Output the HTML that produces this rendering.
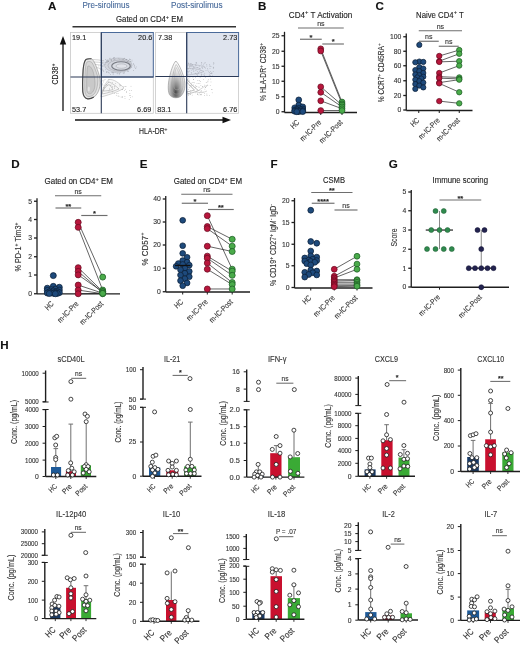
<!DOCTYPE html>
<html><head><meta charset="utf-8"><style>
html,body{margin:0;padding:0;background:#fff;}
svg{display:block;will-change:transform;}
text{font-family:"Liberation Sans", sans-serif;paint-order:stroke;}
</style></head><body>
<svg width="520" height="646" viewBox="0 0 520 646">
<rect x="0" y="0" width="520" height="646" fill="#fff"/>
<text x="48.00" y="9.80" font-size="11.6" text-anchor="start" fill="#111" stroke="#111" stroke-width="0.12" font-weight="bold">A</text>
<text x="82.50" y="7.50" font-size="8.6" text-anchor="start" fill="#46699a" stroke="#46699a" stroke-width="0.12" textLength="47.00" lengthAdjust="spacingAndGlyphs">Pre-sirolimus</text>
<text x="171.00" y="7.50" font-size="8.6" text-anchor="start" fill="#46699a" stroke="#46699a" stroke-width="0.12" textLength="51.50" lengthAdjust="spacingAndGlyphs">Post-sirolimus</text>
<text x="116.00" y="22.00" font-size="8.4" text-anchor="start" fill="#222" stroke="#222" stroke-width="0.12" textLength="67.00" lengthAdjust="spacingAndGlyphs">Gated on CD4<tspan font-size="6" dy="-3.2">+</tspan><tspan dy="3.2"> EM</tspan></text>
<line x1="72.50" y1="26.80" x2="236.00" y2="26.80" stroke="#333" stroke-width="1.5"/>
<defs>
<radialGradient id="gA1" cx="0.3" cy="0.72" r="0.85">
 <stop offset="0" stop-color="#9a9a9a"/><stop offset="0.3" stop-color="#c6c6c6"/><stop offset="0.7" stop-color="#e2e2e2"/><stop offset="1" stop-color="#f0f0f0"/>
</radialGradient>
<radialGradient id="gA2" cx="0.45" cy="0.83" r="0.75" fx="0.45" fy="0.85">
 <stop offset="0" stop-color="#4a4a4a"/><stop offset="0.25" stop-color="#8a8a8a"/><stop offset="0.55" stop-color="#c8c8c8"/><stop offset="0.8" stop-color="#eeeeee"/><stop offset="1" stop-color="#fafafa"/>
</radialGradient>
<radialGradient id="gA3" cx="0.5" cy="0.5" r="0.55">
 <stop offset="0" stop-color="#c9ccd6"/><stop offset="1" stop-color="#e1e5ee"/>
</radialGradient>
</defs>
<rect x="70.50" y="32.50" width="82.80" height="80.80" fill="#fff" stroke="#c8c8c8" stroke-width="0.8"/>
<rect x="101.30" y="32.50" width="52.00" height="44.50" fill="#dfe4ee" stroke="#4a6a99" stroke-width="1.0"/>
<ellipse cx="118.3" cy="65.2" rx="13.8" ry="7.2" fill="#d3d6de" stroke="#a9acb4" stroke-width="0.5"/>
<ellipse cx="119.5" cy="65.6" rx="11.5" ry="5.6" fill="none" stroke="#9a9da5" stroke-width="0.5"/>
<ellipse cx="121" cy="66" rx="9.3" ry="4.3" fill="#d9dce3" stroke="#767981" stroke-width="1.1"/>
<ellipse cx="121.5" cy="66.1" rx="5.5" ry="2.2" fill="#e1e3e9" stroke="#a0a3ab" stroke-width="0.5"/>
<circle cx="119.3" cy="74.0" r="0.4" fill="#8f929a"/>
<circle cx="106.4" cy="72.0" r="0.4" fill="#8f929a"/>
<circle cx="108.2" cy="61.6" r="0.4" fill="#8f929a"/>
<circle cx="136.2" cy="66.9" r="0.4" fill="#8f929a"/>
<circle cx="117.1" cy="73.2" r="0.4" fill="#8f929a"/>
<circle cx="134.2" cy="66.0" r="0.4" fill="#8f929a"/>
<circle cx="126.4" cy="59.7" r="0.4" fill="#8f929a"/>
<circle cx="108.7" cy="61.0" r="0.4" fill="#8f929a"/>
<circle cx="105.8" cy="59.7" r="0.4" fill="#8f929a"/>
<circle cx="100.4" cy="65.0" r="0.4" fill="#8f929a"/>
<circle cx="111.4" cy="60.4" r="0.4" fill="#8f929a"/>
<circle cx="118.9" cy="58.3" r="0.4" fill="#8f929a"/>
<circle cx="113.6" cy="72.3" r="0.4" fill="#8f929a"/>
<circle cx="128.8" cy="60.5" r="0.4" fill="#8f929a"/>
<circle cx="114.4" cy="57.7" r="0.4" fill="#8f929a"/>
<circle cx="113.8" cy="57.6" r="0.4" fill="#8f929a"/>
<circle cx="103.7" cy="71.4" r="0.4" fill="#8f929a"/>
<circle cx="100.3" cy="69.2" r="0.4" fill="#8f929a"/>
<circle cx="128.2" cy="61.6" r="0.4" fill="#8f929a"/>
<circle cx="127.7" cy="71.4" r="0.4" fill="#8f929a"/>
<circle cx="133.7" cy="64.6" r="0.4" fill="#8f929a"/>
<circle cx="107.3" cy="61.1" r="0.4" fill="#8f929a"/>
<circle cx="102.3" cy="65.9" r="0.4" fill="#8f929a"/>
<circle cx="108.0" cy="72.6" r="0.4" fill="#8f929a"/>
<circle cx="101.9" cy="61.8" r="0.4" fill="#8f929a"/>
<circle cx="110.2" cy="58.2" r="0.4" fill="#8f929a"/>
<circle cx="129.9" cy="59.2" r="0.4" fill="#8f929a"/>
<circle cx="111.1" cy="60.2" r="0.4" fill="#8f929a"/>
<circle cx="130.2" cy="59.4" r="0.4" fill="#8f929a"/>
<circle cx="131.9" cy="61.8" r="0.4" fill="#8f929a"/>
<circle cx="114.7" cy="59.4" r="0.4" fill="#8f929a"/>
<circle cx="126.2" cy="59.3" r="0.4" fill="#8f929a"/>
<circle cx="115.0" cy="72.6" r="0.4" fill="#8f929a"/>
<circle cx="129.6" cy="59.1" r="0.4" fill="#8f929a"/>
<circle cx="133.4" cy="70.7" r="0.4" fill="#8f929a"/>
<circle cx="105.8" cy="69.8" r="0.4" fill="#8f929a"/>
<circle cx="113.1" cy="74.3" r="0.4" fill="#8f929a"/>
<circle cx="127.7" cy="61.5" r="0.4" fill="#8f929a"/>
<circle cx="107.6" cy="61.9" r="0.4" fill="#8f929a"/>
<circle cx="115.0" cy="59.1" r="0.4" fill="#8f929a"/>
<circle cx="132.0" cy="60.1" r="0.4" fill="#8f929a"/>
<circle cx="98.8" cy="65.9" r="0.4" fill="#8f929a"/>
<circle cx="112.9" cy="72.3" r="0.4" fill="#8f929a"/>
<circle cx="106.8" cy="62.4" r="0.4" fill="#8f929a"/>
<circle cx="123.2" cy="73.2" r="0.4" fill="#8f929a"/>
<circle cx="106.9" cy="61.9" r="0.4" fill="#8f929a"/>
<circle cx="135.8" cy="68.5" r="0.4" fill="#8f929a"/>
<circle cx="110.6" cy="74.4" r="0.4" fill="#8f929a"/>
<circle cx="130.5" cy="61.7" r="0.4" fill="#8f929a"/>
<circle cx="102.0" cy="68.1" r="0.4" fill="#8f929a"/>
<circle cx="107.5" cy="60.0" r="0.4" fill="#8f929a"/>
<circle cx="102.1" cy="63.3" r="0.4" fill="#8f929a"/>
<circle cx="133.3" cy="63.4" r="0.4" fill="#8f929a"/>
<circle cx="102.0" cy="69.7" r="0.4" fill="#8f929a"/>
<circle cx="119.2" cy="73.3" r="0.4" fill="#8f929a"/>
<circle cx="134.4" cy="65.1" r="0.4" fill="#8f929a"/>
<circle cx="105.0" cy="64.3" r="0.4" fill="#8f929a"/>
<circle cx="103.5" cy="70.2" r="0.4" fill="#8f929a"/>
<circle cx="134.9" cy="67.2" r="0.4" fill="#8f929a"/>
<circle cx="108.6" cy="61.4" r="0.4" fill="#8f929a"/>
<circle cx="106.7" cy="60.7" r="0.4" fill="#8f929a"/>
<circle cx="111.3" cy="59.6" r="0.4" fill="#8f929a"/>
<circle cx="113.3" cy="58.2" r="0.4" fill="#8f929a"/>
<circle cx="131.8" cy="67.1" r="0.4" fill="#8f929a"/>
<circle cx="109.5" cy="58.2" r="0.4" fill="#8f929a"/>
<circle cx="117.9" cy="73.8" r="0.4" fill="#8f929a"/>
<circle cx="105.1" cy="62.2" r="0.4" fill="#8f929a"/>
<circle cx="107.9" cy="71.6" r="0.4" fill="#8f929a"/>
<circle cx="106.5" cy="72.0" r="0.4" fill="#8f929a"/>
<circle cx="113.1" cy="73.2" r="0.4" fill="#8f929a"/>
<circle cx="119.9" cy="59.8" r="0.4" fill="#8f929a"/>
<circle cx="101.9" cy="62.7" r="0.4" fill="#8f929a"/>
<circle cx="112.5" cy="72.7" r="0.4" fill="#8f929a"/>
<circle cx="123.0" cy="59.6" r="0.4" fill="#8f929a"/>
<circle cx="124.1" cy="73.1" r="0.4" fill="#8f929a"/>
<circle cx="113.5" cy="59.9" r="0.4" fill="#8f929a"/>
<circle cx="111.2" cy="72.7" r="0.4" fill="#8f929a"/>
<circle cx="126.0" cy="59.7" r="0.4" fill="#8f929a"/>
<circle cx="127.0" cy="60.8" r="0.4" fill="#8f929a"/>
<circle cx="109.1" cy="73.1" r="0.4" fill="#8f929a"/>
<circle cx="130.1" cy="61.2" r="0.4" fill="#8f929a"/>
<circle cx="120.2" cy="72.8" r="0.4" fill="#8f929a"/>
<circle cx="103.6" cy="64.9" r="0.4" fill="#8f929a"/>
<circle cx="124.4" cy="58.2" r="0.4" fill="#8f929a"/>
<circle cx="124.1" cy="72.7" r="0.4" fill="#8f929a"/>
<circle cx="124.0" cy="58.7" r="0.4" fill="#8f929a"/>
<circle cx="123.4" cy="59.4" r="0.4" fill="#8f929a"/>
<circle cx="128.5" cy="71.4" r="0.4" fill="#8f929a"/>
<circle cx="122.1" cy="59.4" r="0.4" fill="#8f929a"/>
<circle cx="108.9" cy="72.3" r="0.4" fill="#8f929a"/>
<path d="M101,97 C102,90 105,83 109,79.5 C114,79 119,83 124,88 C120,91 112,94 101,97 Z" fill="#f7f7f7" stroke="#a8a8a8" stroke-width="0.5"/>
<path d="M102,94 C103.5,88 106,84 109,82 C112,83 116,86 119,89 C114,91 108,93 102,94 Z" fill="none" stroke="#9c9c9c" stroke-width="0.5"/>
<path d="M103,91 C104.5,88 106.5,85.5 109,84.5 C111,86 112,88 113,89.5 C110,90.5 106,91 103,91 Z" fill="none" stroke="#999" stroke-width="0.5"/>
<circle cx="114.4" cy="87.0" r="0.4" fill="#9a9a9a"/>
<circle cx="129.2" cy="99.7" r="0.4" fill="#9a9a9a"/>
<circle cx="124.9" cy="96.4" r="0.4" fill="#9a9a9a"/>
<circle cx="122.2" cy="89.4" r="0.4" fill="#9a9a9a"/>
<circle cx="110.2" cy="85.5" r="0.4" fill="#9a9a9a"/>
<circle cx="108.3" cy="79.5" r="0.4" fill="#9a9a9a"/>
<circle cx="119.8" cy="84.3" r="0.4" fill="#9a9a9a"/>
<circle cx="129.9" cy="93.3" r="0.4" fill="#9a9a9a"/>
<circle cx="130.6" cy="97.7" r="0.4" fill="#9a9a9a"/>
<circle cx="129.8" cy="90.7" r="0.4" fill="#9a9a9a"/>
<circle cx="106.5" cy="84.6" r="0.4" fill="#9a9a9a"/>
<circle cx="122.2" cy="89.5" r="0.4" fill="#9a9a9a"/>
<circle cx="120.6" cy="85.5" r="0.4" fill="#9a9a9a"/>
<circle cx="116.3" cy="95.2" r="0.4" fill="#9a9a9a"/>
<circle cx="112.3" cy="82.3" r="0.4" fill="#9a9a9a"/>
<circle cx="118.1" cy="96.0" r="0.4" fill="#9a9a9a"/>
<circle cx="130.5" cy="95.7" r="0.4" fill="#9a9a9a"/>
<circle cx="121.1" cy="97.0" r="0.4" fill="#9a9a9a"/>
<circle cx="102.6" cy="84.0" r="0.4" fill="#9a9a9a"/>
<circle cx="109.6" cy="89.6" r="0.4" fill="#9a9a9a"/>
<circle cx="114.5" cy="88.4" r="0.4" fill="#9a9a9a"/>
<circle cx="102.8" cy="80.8" r="0.4" fill="#9a9a9a"/>
<circle cx="105.0" cy="79.5" r="0.4" fill="#9a9a9a"/>
<circle cx="132.2" cy="96.8" r="0.4" fill="#9a9a9a"/>
<circle cx="111.1" cy="84.9" r="0.4" fill="#9a9a9a"/>
<circle cx="112.2" cy="92.2" r="0.4" fill="#9a9a9a"/>
<circle cx="119.8" cy="85.9" r="0.4" fill="#9a9a9a"/>
<circle cx="107.1" cy="85.2" r="0.4" fill="#9a9a9a"/>
<circle cx="123.9" cy="86.4" r="0.4" fill="#9a9a9a"/>
<circle cx="103.6" cy="81.9" r="0.4" fill="#9a9a9a"/>
<circle cx="112.9" cy="91.3" r="0.4" fill="#9a9a9a"/>
<circle cx="126.0" cy="86.4" r="0.4" fill="#9a9a9a"/>
<circle cx="126.6" cy="91.7" r="0.4" fill="#9a9a9a"/>
<circle cx="114.8" cy="86.2" r="0.4" fill="#9a9a9a"/>
<circle cx="116.9" cy="93.5" r="0.4" fill="#9a9a9a"/>
<circle cx="114.5" cy="93.3" r="0.4" fill="#9a9a9a"/>
<circle cx="115.7" cy="83.4" r="0.4" fill="#9a9a9a"/>
<circle cx="118.1" cy="93.3" r="0.4" fill="#9a9a9a"/>
<circle cx="103.3" cy="87.3" r="0.4" fill="#9a9a9a"/>
<circle cx="131.0" cy="86.2" r="0.4" fill="#9a9a9a"/>
<circle cx="129.7" cy="95.4" r="0.4" fill="#9a9a9a"/>
<circle cx="109.4" cy="88.2" r="0.4" fill="#9a9a9a"/>
<circle cx="122.2" cy="97.5" r="0.4" fill="#9a9a9a"/>
<circle cx="126.4" cy="92.7" r="0.4" fill="#9a9a9a"/>
<circle cx="124.5" cy="90.4" r="0.4" fill="#9a9a9a"/>
<circle cx="101.2" cy="81.2" r="0.4" fill="#9a9a9a"/>
<circle cx="103.9" cy="80.2" r="0.4" fill="#9a9a9a"/>
<circle cx="122.6" cy="96.4" r="0.4" fill="#9a9a9a"/>
<circle cx="131.5" cy="90.7" r="0.4" fill="#9a9a9a"/>
<circle cx="125.6" cy="89.2" r="0.4" fill="#9a9a9a"/>
<circle cx="125.0" cy="98.6" r="0.4" fill="#9a9a9a"/>
<circle cx="103.0" cy="85.1" r="0.4" fill="#9a9a9a"/>
<circle cx="119.0" cy="96.2" r="0.4" fill="#9a9a9a"/>
<circle cx="108.7" cy="82.0" r="0.4" fill="#9a9a9a"/>
<circle cx="109.0" cy="91.6" r="0.4" fill="#9a9a9a"/>
<circle cx="125.1" cy="86.7" r="0.4" fill="#9a9a9a"/>
<circle cx="112.8" cy="86.7" r="0.4" fill="#9a9a9a"/>
<circle cx="112.2" cy="87.2" r="0.4" fill="#9a9a9a"/>
<path d="M85.8,59.6 C86.8,58.8 88.5,58.5 91.5,58.8 C93.5,60 95.5,64 97.3,69.5 C99,74 100.2,78 100.2,83 C100,88 98.5,92.5 95.5,95.8 C93,98 90,99 87.8,98.9 C85.3,98.6 83.4,96.5 82.8,92 C82.4,86 82.6,78 83.1,70 C83.5,65 84.5,61 85.8,59.6 Z" fill="#e3e3e3" stroke="#8a8a8a" stroke-width="0.6"/>
<path d="M91.5,58.8 C89,58.5 87,58.9 85.8,59.6 C84.5,61 83.5,65 83.1,70 C82.6,78 82.4,86 82.8,92 C83.4,96.5 85.3,98.6 87.8,98.9 C90,99 92,98.3 93.8,97" fill="none" stroke="#484848" stroke-width="1.1"/>
<path d="M87,62 C88.5,61.2 90.5,61.3 92,62.5 C94,66 96,71 97.5,76 C98.3,81 97.8,87 95.5,92 C93.5,95.5 90.5,96.8 88,96.5 C86,96 85,93.5 84.8,89 C84.6,82 85,73 85.6,67 C85.9,64.5 86.3,62.8 87,62 Z" fill="#d6d6d6" stroke="#999" stroke-width="0.5"/>
<path d="M88,66 C89.5,65.5 91,67 92.5,70 C94,74 95,79 95,84 C95,88.5 93.5,92 91,93.5 C89,94.3 87.2,93.5 86.8,90.5 C86.5,85 86.7,77 87.1,71 C87.3,68 87.5,66.5 88,66 Z" fill="#c9c9c9" stroke="#9a9a9a" stroke-width="0.5"/>
<ellipse cx="88.8" cy="89" rx="1.1" ry="2.6" fill="#e2e2e2"/>
<path d="M92,59.5 C96,59.6 100,60 104,60.8 M93.5,62 C97,62 100.5,62.3 104,63 M95,64.5 C98,64.5 101,65.2 103.5,66.5 M96.3,67.5 C99,67.8 101.5,69 103,70.5" fill="none" stroke="#a6a6a6" stroke-width="0.5"/>
<line x1="70.50" y1="77.00" x2="153.30" y2="77.00" stroke="#2b3956" stroke-width="1.1"/>
<line x1="101.30" y1="32.50" x2="101.30" y2="113.30" stroke="#2b3956" stroke-width="1.1"/>
<text x="72.00" y="40.20" font-size="7.3" text-anchor="start" fill="#222" stroke="#222" stroke-width="0.12">19.1</text>
<text x="152.30" y="40.20" font-size="7.3" text-anchor="end" fill="#222" stroke="#222" stroke-width="0.12">20.6</text>
<text x="72.00" y="112.00" font-size="7.3" text-anchor="start" fill="#222" stroke="#222" stroke-width="0.12">53.7</text>
<text x="151.30" y="112.00" font-size="7.3" text-anchor="end" fill="#222" stroke="#222" stroke-width="0.12">6.69</text>
<rect x="155.40" y="32.50" width="83.20" height="80.80" fill="#fff" stroke="#c8c8c8" stroke-width="0.8"/>
<rect x="186.70" y="32.50" width="51.90" height="44.00" fill="#dfe4ee" stroke="#4a6a99" stroke-width="1.0"/>
<circle cx="195.6" cy="64.1" r="0.4" fill="#979aa4"/>
<circle cx="204.7" cy="63.0" r="0.4" fill="#979aa4"/>
<circle cx="201.5" cy="67.1" r="0.4" fill="#979aa4"/>
<circle cx="188.1" cy="69.1" r="0.4" fill="#979aa4"/>
<circle cx="187.5" cy="68.1" r="0.4" fill="#979aa4"/>
<circle cx="188.5" cy="63.3" r="0.4" fill="#979aa4"/>
<circle cx="198.4" cy="73.6" r="0.4" fill="#979aa4"/>
<circle cx="190.0" cy="65.1" r="0.4" fill="#979aa4"/>
<circle cx="204.1" cy="75.3" r="0.4" fill="#979aa4"/>
<circle cx="202.7" cy="67.6" r="0.4" fill="#979aa4"/>
<circle cx="213.8" cy="62.7" r="0.4" fill="#979aa4"/>
<circle cx="210.5" cy="66.1" r="0.4" fill="#979aa4"/>
<circle cx="190.5" cy="63.6" r="0.4" fill="#979aa4"/>
<circle cx="195.1" cy="73.4" r="0.4" fill="#979aa4"/>
<circle cx="191.6" cy="70.1" r="0.4" fill="#979aa4"/>
<circle cx="204.4" cy="67.2" r="0.4" fill="#979aa4"/>
<circle cx="201.8" cy="62.9" r="0.4" fill="#979aa4"/>
<circle cx="188.2" cy="64.9" r="0.4" fill="#979aa4"/>
<circle cx="205.6" cy="68.0" r="0.4" fill="#979aa4"/>
<circle cx="195.3" cy="70.2" r="0.4" fill="#979aa4"/>
<circle cx="199.2" cy="66.2" r="0.4" fill="#979aa4"/>
<circle cx="208.7" cy="71.8" r="0.4" fill="#979aa4"/>
<circle cx="193.3" cy="70.0" r="0.4" fill="#979aa4"/>
<circle cx="201.2" cy="74.3" r="0.4" fill="#979aa4"/>
<circle cx="206.9" cy="66.0" r="0.4" fill="#979aa4"/>
<circle cx="213.9" cy="63.7" r="0.4" fill="#979aa4"/>
<circle cx="198.2" cy="72.6" r="0.4" fill="#979aa4"/>
<circle cx="190.8" cy="68.8" r="0.4" fill="#979aa4"/>
<circle cx="187.6" cy="71.4" r="0.4" fill="#979aa4"/>
<circle cx="207.9" cy="70.0" r="0.4" fill="#979aa4"/>
<circle cx="211.0" cy="66.4" r="0.4" fill="#979aa4"/>
<circle cx="206.0" cy="70.3" r="0.4" fill="#979aa4"/>
<circle cx="202.7" cy="68.4" r="0.4" fill="#979aa4"/>
<circle cx="210.0" cy="75.2" r="0.4" fill="#979aa4"/>
<circle cx="199.8" cy="71.3" r="0.4" fill="#979aa4"/>
<circle cx="188.2" cy="71.8" r="0.4" fill="#979aa4"/>
<circle cx="204.6" cy="75.9" r="0.4" fill="#979aa4"/>
<circle cx="209.5" cy="66.0" r="0.4" fill="#979aa4"/>
<circle cx="197.3" cy="71.4" r="0.4" fill="#979aa4"/>
<circle cx="187.1" cy="68.5" r="0.4" fill="#979aa4"/>
<circle cx="191.2" cy="63.6" r="0.4" fill="#979aa4"/>
<circle cx="188.2" cy="72.8" r="0.4" fill="#979aa4"/>
<circle cx="190.1" cy="65.5" r="0.4" fill="#979aa4"/>
<circle cx="197.4" cy="74.2" r="0.4" fill="#979aa4"/>
<circle cx="188.8" cy="68.3" r="0.4" fill="#979aa4"/>
<circle cx="201.9" cy="74.4" r="0.4" fill="#979aa4"/>
<circle cx="209.4" cy="74.1" r="0.4" fill="#979aa4"/>
<circle cx="194.3" cy="67.8" r="0.4" fill="#979aa4"/>
<circle cx="196.5" cy="74.4" r="0.4" fill="#979aa4"/>
<circle cx="213.3" cy="64.1" r="0.4" fill="#979aa4"/>
<circle cx="191.4" cy="65.2" r="0.4" fill="#979aa4"/>
<circle cx="193.0" cy="68.8" r="0.4" fill="#979aa4"/>
<circle cx="203.0" cy="65.7" r="0.4" fill="#979aa4"/>
<circle cx="186.6" cy="67.9" r="0.4" fill="#979aa4"/>
<circle cx="196.8" cy="69.9" r="0.4" fill="#979aa4"/>
<circle cx="213.2" cy="71.7" r="0.4" fill="#979aa4"/>
<circle cx="200.9" cy="70.6" r="0.4" fill="#979aa4"/>
<circle cx="205.4" cy="62.8" r="0.4" fill="#979aa4"/>
<circle cx="211.7" cy="72.9" r="0.4" fill="#979aa4"/>
<circle cx="211.0" cy="73.2" r="0.4" fill="#979aa4"/>
<circle cx="197.5" cy="67.6" r="0.4" fill="#979aa4"/>
<circle cx="189.4" cy="70.9" r="0.4" fill="#979aa4"/>
<circle cx="188.2" cy="62.9" r="0.4" fill="#979aa4"/>
<circle cx="192.3" cy="64.3" r="0.4" fill="#979aa4"/>
<circle cx="196.0" cy="62.7" r="0.4" fill="#979aa4"/>
<circle cx="186.5" cy="64.1" r="0.4" fill="#979aa4"/>
<circle cx="189.3" cy="67.1" r="0.4" fill="#979aa4"/>
<circle cx="187.2" cy="74.2" r="0.4" fill="#979aa4"/>
<circle cx="203.7" cy="64.1" r="0.4" fill="#979aa4"/>
<circle cx="193.6" cy="66.9" r="0.4" fill="#979aa4"/>
<circle cx="196.7" cy="63.7" r="0.4" fill="#979aa4"/>
<circle cx="210.3" cy="75.9" r="0.4" fill="#979aa4"/>
<circle cx="199.5" cy="68.8" r="0.4" fill="#979aa4"/>
<circle cx="188.9" cy="63.4" r="0.4" fill="#979aa4"/>
<circle cx="196.1" cy="65.7" r="0.4" fill="#979aa4"/>
<circle cx="209.7" cy="64.3" r="0.4" fill="#979aa4"/>
<circle cx="187.1" cy="75.3" r="0.4" fill="#979aa4"/>
<circle cx="201.3" cy="64.1" r="0.4" fill="#979aa4"/>
<circle cx="201.7" cy="62.4" r="0.4" fill="#979aa4"/>
<circle cx="201.3" cy="75.7" r="0.4" fill="#979aa4"/>
<circle cx="210.7" cy="71.7" r="0.4" fill="#979aa4"/>
<circle cx="193.8" cy="67.1" r="0.4" fill="#979aa4"/>
<circle cx="191.2" cy="72.8" r="0.4" fill="#979aa4"/>
<circle cx="201.4" cy="72.9" r="0.4" fill="#979aa4"/>
<circle cx="195.7" cy="65.1" r="0.4" fill="#979aa4"/>
<circle cx="209.2" cy="75.8" r="0.4" fill="#979aa4"/>
<circle cx="210.4" cy="73.3" r="0.4" fill="#979aa4"/>
<circle cx="209.4" cy="72.4" r="0.4" fill="#979aa4"/>
<circle cx="192.8" cy="69.2" r="0.4" fill="#979aa4"/>
<circle cx="196.5" cy="62.4" r="0.4" fill="#979aa4"/>
<circle cx="187.3" cy="65.9" r="0.4" fill="#979aa4"/>
<circle cx="193.8" cy="71.7" r="0.4" fill="#979aa4"/>
<circle cx="213.3" cy="68.3" r="0.4" fill="#979aa4"/>
<circle cx="212.7" cy="75.8" r="0.4" fill="#979aa4"/>
<circle cx="213.2" cy="67.1" r="0.4" fill="#979aa4"/>
<circle cx="192.7" cy="65.2" r="0.4" fill="#979aa4"/>
<circle cx="192.0" cy="64.9" r="0.4" fill="#979aa4"/>
<circle cx="204.0" cy="74.6" r="0.4" fill="#979aa4"/>
<circle cx="210.0" cy="68.7" r="0.4" fill="#979aa4"/>
<circle cx="204.8" cy="73.2" r="0.4" fill="#979aa4"/>
<circle cx="188.9" cy="71.2" r="0.4" fill="#979aa4"/>
<circle cx="212.0" cy="73.0" r="0.4" fill="#979aa4"/>
<circle cx="207.5" cy="68.7" r="0.4" fill="#979aa4"/>
<circle cx="191.5" cy="73.0" r="0.4" fill="#979aa4"/>
<circle cx="195.8" cy="73.2" r="0.4" fill="#979aa4"/>
<circle cx="213.7" cy="67.5" r="0.4" fill="#979aa4"/>
<circle cx="197.7" cy="75.3" r="0.4" fill="#979aa4"/>
<circle cx="206.8" cy="64.4" r="0.4" fill="#979aa4"/>
<circle cx="190.1" cy="64.1" r="0.4" fill="#979aa4"/>
<circle cx="211.8" cy="73.3" r="0.4" fill="#979aa4"/>
<circle cx="190.3" cy="92.7" r="0.4" fill="#a0a0a0"/>
<circle cx="212.0" cy="89.5" r="0.4" fill="#a0a0a0"/>
<circle cx="195.6" cy="87.4" r="0.4" fill="#a0a0a0"/>
<circle cx="189.9" cy="77.3" r="0.4" fill="#a0a0a0"/>
<circle cx="211.7" cy="89.3" r="0.4" fill="#a0a0a0"/>
<circle cx="200.2" cy="94.7" r="0.4" fill="#a0a0a0"/>
<circle cx="197.8" cy="93.6" r="0.4" fill="#a0a0a0"/>
<circle cx="208.0" cy="81.0" r="0.4" fill="#a0a0a0"/>
<circle cx="193.0" cy="82.6" r="0.4" fill="#a0a0a0"/>
<circle cx="192.8" cy="88.1" r="0.4" fill="#a0a0a0"/>
<circle cx="193.2" cy="85.0" r="0.4" fill="#a0a0a0"/>
<circle cx="189.9" cy="94.3" r="0.4" fill="#a0a0a0"/>
<circle cx="195.7" cy="85.7" r="0.4" fill="#a0a0a0"/>
<circle cx="201.7" cy="94.2" r="0.4" fill="#a0a0a0"/>
<circle cx="197.4" cy="94.4" r="0.4" fill="#a0a0a0"/>
<circle cx="199.5" cy="87.1" r="0.4" fill="#a0a0a0"/>
<circle cx="200.1" cy="77.4" r="0.4" fill="#a0a0a0"/>
<circle cx="197.9" cy="80.5" r="0.4" fill="#a0a0a0"/>
<circle cx="186.6" cy="92.2" r="0.4" fill="#a0a0a0"/>
<circle cx="191.0" cy="86.0" r="0.4" fill="#a0a0a0"/>
<circle cx="205.4" cy="87.6" r="0.4" fill="#a0a0a0"/>
<circle cx="195.0" cy="86.8" r="0.4" fill="#a0a0a0"/>
<circle cx="200.9" cy="91.9" r="0.4" fill="#a0a0a0"/>
<circle cx="189.3" cy="87.6" r="0.4" fill="#a0a0a0"/>
<circle cx="193.0" cy="82.3" r="0.4" fill="#a0a0a0"/>
<circle cx="206.6" cy="86.6" r="0.4" fill="#a0a0a0"/>
<circle cx="201.1" cy="91.4" r="0.4" fill="#a0a0a0"/>
<circle cx="210.2" cy="85.4" r="0.4" fill="#a0a0a0"/>
<circle cx="202.4" cy="86.6" r="0.4" fill="#a0a0a0"/>
<circle cx="199.8" cy="90.2" r="0.4" fill="#a0a0a0"/>
<circle cx="198.3" cy="87.1" r="0.4" fill="#a0a0a0"/>
<circle cx="198.9" cy="94.9" r="0.4" fill="#a0a0a0"/>
<circle cx="204.7" cy="93.7" r="0.4" fill="#a0a0a0"/>
<circle cx="211.0" cy="81.9" r="0.4" fill="#a0a0a0"/>
<circle cx="201.0" cy="94.9" r="0.4" fill="#a0a0a0"/>
<circle cx="208.3" cy="79.6" r="0.4" fill="#a0a0a0"/>
<circle cx="189.7" cy="85.4" r="0.4" fill="#a0a0a0"/>
<circle cx="188.4" cy="81.6" r="0.4" fill="#a0a0a0"/>
<circle cx="188.4" cy="89.7" r="0.4" fill="#a0a0a0"/>
<circle cx="206.9" cy="94.0" r="0.4" fill="#a0a0a0"/>
<circle cx="190.5" cy="90.6" r="0.4" fill="#a0a0a0"/>
<circle cx="203.7" cy="79.7" r="0.4" fill="#a0a0a0"/>
<circle cx="209.5" cy="95.4" r="0.4" fill="#a0a0a0"/>
<circle cx="192.2" cy="95.1" r="0.4" fill="#a0a0a0"/>
<circle cx="196.9" cy="86.3" r="0.4" fill="#a0a0a0"/>
<circle cx="212.2" cy="92.8" r="0.4" fill="#a0a0a0"/>
<circle cx="190.7" cy="85.2" r="0.4" fill="#a0a0a0"/>
<circle cx="199.9" cy="83.4" r="0.4" fill="#a0a0a0"/>
<circle cx="191.6" cy="83.1" r="0.4" fill="#a0a0a0"/>
<circle cx="205.3" cy="77.4" r="0.4" fill="#a0a0a0"/>
<circle cx="200.9" cy="85.4" r="0.4" fill="#a0a0a0"/>
<circle cx="187.0" cy="83.3" r="0.4" fill="#a0a0a0"/>
<circle cx="202.7" cy="86.7" r="0.4" fill="#a0a0a0"/>
<circle cx="188.2" cy="95.7" r="0.4" fill="#a0a0a0"/>
<circle cx="207.0" cy="95.5" r="0.4" fill="#a0a0a0"/>
<circle cx="189.2" cy="82.0" r="0.4" fill="#a0a0a0"/>
<circle cx="187.5" cy="91.8" r="0.4" fill="#a0a0a0"/>
<circle cx="193.5" cy="79.5" r="0.4" fill="#a0a0a0"/>
<circle cx="197.5" cy="94.3" r="0.4" fill="#a0a0a0"/>
<circle cx="207.8" cy="81.9" r="0.4" fill="#a0a0a0"/>
<circle cx="190.4" cy="94.5" r="0.4" fill="#a0a0a0"/>
<circle cx="201.3" cy="90.3" r="0.4" fill="#a0a0a0"/>
<circle cx="188.8" cy="78.1" r="0.4" fill="#a0a0a0"/>
<circle cx="204.4" cy="85.1" r="0.4" fill="#a0a0a0"/>
<circle cx="188.4" cy="94.8" r="0.4" fill="#a0a0a0"/>
<circle cx="203.0" cy="92.2" r="0.4" fill="#a0a0a0"/>
<circle cx="188.7" cy="93.3" r="0.4" fill="#a0a0a0"/>
<circle cx="188.2" cy="93.4" r="0.4" fill="#a0a0a0"/>
<circle cx="198.3" cy="83.4" r="0.4" fill="#a0a0a0"/>
<circle cx="200.9" cy="94.6" r="0.4" fill="#a0a0a0"/>
<circle cx="193.5" cy="79.5" r="0.4" fill="#a0a0a0"/>
<circle cx="200.2" cy="81.5" r="0.4" fill="#a0a0a0"/>
<circle cx="189.3" cy="80.1" r="0.4" fill="#a0a0a0"/>
<circle cx="187.8" cy="80.8" r="0.4" fill="#a0a0a0"/>
<circle cx="194.6" cy="82.8" r="0.4" fill="#a0a0a0"/>
<circle cx="206.2" cy="82.5" r="0.4" fill="#a0a0a0"/>
<circle cx="199.5" cy="80.4" r="0.4" fill="#a0a0a0"/>
<circle cx="195.5" cy="77.3" r="0.4" fill="#a0a0a0"/>
<circle cx="193.0" cy="77.3" r="0.4" fill="#a0a0a0"/>
<circle cx="205.6" cy="87.5" r="0.4" fill="#a0a0a0"/>
<circle cx="191.4" cy="86.0" r="0.4" fill="#a0a0a0"/>
<circle cx="210.8" cy="79.0" r="0.4" fill="#a0a0a0"/>
<circle cx="207.8" cy="85.2" r="0.4" fill="#a0a0a0"/>
<circle cx="199.4" cy="92.9" r="0.4" fill="#a0a0a0"/>
<circle cx="196.7" cy="86.6" r="0.4" fill="#a0a0a0"/>
<circle cx="204.4" cy="95.7" r="0.4" fill="#a0a0a0"/>
<circle cx="195.4" cy="92.8" r="0.4" fill="#a0a0a0"/>
<circle cx="204.9" cy="89.1" r="0.4" fill="#a0a0a0"/>
<circle cx="197.0" cy="83.6" r="0.4" fill="#a0a0a0"/>
<circle cx="187.9" cy="79.5" r="0.4" fill="#a0a0a0"/>
<path d="M187,65 C193,64 199,65 205,67 M187,68.5 C193,68 199,69 204,71.5 C199,73.5 193,74.5 187,75 M189,66.5 C194,66.5 198,67.5 201,69" fill="none" stroke="#a8abb4" stroke-width="0.5"/>
<path d="M186.7,79 C190,83 194,87.5 198.5,90.5 C194,92.5 190,93.5 186.7,94 M186.7,82 C189.5,85 192,88 194.5,90 C192,91 189,91.5 186.7,92" fill="none" stroke="#959595" stroke-width="0.6"/>
<path d="M198.5,90.5 C202,88 205,86 208,85 M196,92 C200,93 204,92.5 207,91" fill="none" stroke="#b0b0b0" stroke-width="0.5"/>
<path d="M175.8,61 C178.5,63.5 181.8,70 184,78 C185.8,85 185.2,92 180.5,96.5 C177,98.6 171.5,98.2 169.3,94.3 C167.5,89.5 168.2,82 170,75 C171.5,69 173.5,63.5 175.8,61 Z" fill="url(#gA2)" stroke="#8a8a8a" stroke-width="0.6"/>
<path d="M176.2,64.5 C178.5,67.5 181,73 182.6,79.5 C183.8,85.5 183,90.5 180,93 C177,95 173.5,94.2 172.3,91 C171,87 171.8,80 173.2,74 C174,69.5 175,66.5 176.2,64.5 Z" fill="none" stroke="#9a9a9a" stroke-width="0.5"/>
<path d="M176.2,67.5 C177.8,70 179.5,74 180.5,79 C181,84 180.5,88 178.5,89.5 C176.5,90.5 174.5,89.5 174,87 C173.5,83 174.3,77 175,73 C175.4,70.5 175.7,68.7 176.2,67.5 Z" fill="none" stroke="#aaa" stroke-width="0.5"/>
<line x1="155.40" y1="76.50" x2="238.60" y2="76.50" stroke="#2b3956" stroke-width="1.1"/>
<line x1="186.70" y1="32.50" x2="186.70" y2="113.30" stroke="#2b3956" stroke-width="1.1"/>
<text x="158.00" y="40.20" font-size="7.3" text-anchor="start" fill="#222" stroke="#222" stroke-width="0.12">7.38</text>
<text x="237.30" y="40.20" font-size="7.3" text-anchor="end" fill="#222" stroke="#222" stroke-width="0.12">2.73</text>
<text x="157.20" y="112.00" font-size="7.3" text-anchor="start" fill="#222" stroke="#222" stroke-width="0.12">83.1</text>
<text x="237.30" y="112.00" font-size="7.3" text-anchor="end" fill="#222" stroke="#222" stroke-width="0.12">6.76</text>
<line x1="63.00" y1="110.90" x2="63.00" y2="42.00" stroke="#111" stroke-width="1.3"/>
<path d="M63,36 L66.2,44.5 L59.8,44.5 Z" fill="#111"/>
<line x1="75.00" y1="120.00" x2="224.00" y2="120.00" stroke="#111" stroke-width="1.3"/>
<path d="M231,120 L222.5,116.8 L222.5,123.2 Z" fill="#111"/>
<text x="58.30" y="74.00" font-size="8.4" text-anchor="middle" fill="#222" stroke="#222" stroke-width="0.12" textLength="21.00" lengthAdjust="spacingAndGlyphs" transform="rotate(-90 58.30 74.00)">CD38<tspan font-size="6" dy="-3.2">+</tspan></text>
<text x="139.00" y="134.00" font-size="8.4" text-anchor="start" fill="#222" stroke="#222" stroke-width="0.12" textLength="28.50" lengthAdjust="spacingAndGlyphs">HLA-DR<tspan font-size="6" dy="-3.2">+</tspan></text>
<text x="258.00" y="9.80" font-size="11.6" text-anchor="start" fill="#111" stroke="#111" stroke-width="0.12" font-weight="bold">B</text>
<text x="288.80" y="17.50" font-size="8.4" text-anchor="start" fill="#222" stroke="#222" stroke-width="0.12" textLength="63.50" lengthAdjust="spacingAndGlyphs">CD4<tspan font-size="6" dy="-3.2">+</tspan><tspan dy="3.2"> T Activation</tspan></text>
<line x1="284.50" y1="31.80" x2="284.50" y2="112.50" stroke="#1e1e1e" stroke-width="1.3"/>
<line x1="281.50" y1="35.75" x2="284.50" y2="35.75" stroke="#1e1e1e" stroke-width="1.3"/>
<text x="279.50" y="38.15" font-size="6.8" text-anchor="end" fill="#333" stroke="#333" stroke-width="0.12">25</text>
<line x1="281.50" y1="51.25" x2="284.50" y2="51.25" stroke="#1e1e1e" stroke-width="1.3"/>
<text x="279.50" y="53.65" font-size="6.8" text-anchor="end" fill="#333" stroke="#333" stroke-width="0.12">20</text>
<line x1="281.50" y1="66.25" x2="284.50" y2="66.25" stroke="#1e1e1e" stroke-width="1.3"/>
<text x="279.50" y="68.65" font-size="6.8" text-anchor="end" fill="#333" stroke="#333" stroke-width="0.12">15</text>
<line x1="281.50" y1="81.25" x2="284.50" y2="81.25" stroke="#1e1e1e" stroke-width="1.3"/>
<text x="279.50" y="83.65" font-size="6.8" text-anchor="end" fill="#333" stroke="#333" stroke-width="0.12">10</text>
<line x1="281.50" y1="96.75" x2="284.50" y2="96.75" stroke="#1e1e1e" stroke-width="1.3"/>
<text x="279.50" y="99.15" font-size="6.8" text-anchor="end" fill="#333" stroke="#333" stroke-width="0.12">5</text>
<line x1="281.50" y1="111.75" x2="284.50" y2="111.75" stroke="#1e1e1e" stroke-width="1.3"/>
<text x="279.50" y="114.15" font-size="6.8" text-anchor="end" fill="#333" stroke="#333" stroke-width="0.12">0</text>
<line x1="284.50" y1="112.50" x2="357.00" y2="112.50" stroke="#1e1e1e" stroke-width="1.4"/>
<line x1="298.75" y1="112.50" x2="298.75" y2="115.00" stroke="#1e1e1e" stroke-width="1.0"/>
<line x1="320.75" y1="112.50" x2="320.75" y2="115.00" stroke="#1e1e1e" stroke-width="1.0"/>
<line x1="342.00" y1="112.50" x2="342.00" y2="115.00" stroke="#1e1e1e" stroke-width="1.0"/>
<line x1="298.00" y1="28.00" x2="343.75" y2="28.00" stroke="#6e6e6e" stroke-width="1.15"/>
<text x="320.88" y="26.20" font-size="7.0" text-anchor="middle" fill="#333" stroke="#333" stroke-width="0.12">ns</text>
<line x1="300.00" y1="39.25" x2="321.75" y2="39.25" stroke="#6e6e6e" stroke-width="1.15"/>
<text x="310.88" y="40.40" font-size="7.5" text-anchor="middle" fill="#222" stroke="#222" stroke-width="0.12" font-weight="bold">*</text>
<line x1="322.30" y1="44.00" x2="343.90" y2="44.00" stroke="#6e6e6e" stroke-width="1.15"/>
<text x="333.10" y="44.20" font-size="7.5" text-anchor="middle" fill="#222" stroke="#222" stroke-width="0.12" font-weight="bold">*</text>
<text x="266.20" y="72.00" font-size="8.4" text-anchor="middle" fill="#333" stroke="#333" stroke-width="0.12" textLength="58.00" lengthAdjust="spacingAndGlyphs" transform="rotate(-90 266.20 72.00)">% HLA-DR<tspan font-size="6" dy="-3.2">+</tspan><tspan dy="3.2"> CD38</tspan><tspan font-size="6" dy="-3.2">+</tspan></text>
<circle cx="298.75" cy="99.89" r="2.9" fill="#1e4a7c" stroke="#0c2038" stroke-width="0.75"/>
<circle cx="298.75" cy="105.06" r="2.9" fill="#1e4a7c" stroke="#0c2038" stroke-width="0.75"/>
<circle cx="302.75" cy="106.89" r="2.9" fill="#1e4a7c" stroke="#0c2038" stroke-width="0.75"/>
<circle cx="294.75" cy="107.80" r="2.9" fill="#1e4a7c" stroke="#0c2038" stroke-width="0.75"/>
<circle cx="298.75" cy="108.41" r="2.9" fill="#1e4a7c" stroke="#0c2038" stroke-width="0.75"/>
<circle cx="302.75" cy="109.01" r="2.9" fill="#1e4a7c" stroke="#0c2038" stroke-width="0.75"/>
<circle cx="296.75" cy="109.32" r="2.9" fill="#1e4a7c" stroke="#0c2038" stroke-width="0.75"/>
<circle cx="300.75" cy="109.62" r="2.9" fill="#1e4a7c" stroke="#0c2038" stroke-width="0.75"/>
<circle cx="294.75" cy="110.23" r="2.9" fill="#1e4a7c" stroke="#0c2038" stroke-width="0.75"/>
<circle cx="298.75" cy="110.53" r="2.9" fill="#1e4a7c" stroke="#0c2038" stroke-width="0.75"/>
<circle cx="302.75" cy="110.69" r="2.9" fill="#1e4a7c" stroke="#0c2038" stroke-width="0.75"/>
<circle cx="296.75" cy="110.84" r="2.9" fill="#1e4a7c" stroke="#0c2038" stroke-width="0.75"/>
<circle cx="300.75" cy="111.14" r="2.9" fill="#1e4a7c" stroke="#0c2038" stroke-width="0.75"/>
<circle cx="294.75" cy="111.29" r="2.9" fill="#1e4a7c" stroke="#0c2038" stroke-width="0.75"/>
<circle cx="298.75" cy="111.45" r="2.9" fill="#1e4a7c" stroke="#0c2038" stroke-width="0.75"/>
<circle cx="302.75" cy="111.60" r="2.9" fill="#1e4a7c" stroke="#0c2038" stroke-width="0.75"/>
<circle cx="296.75" cy="111.75" r="2.9" fill="#1e4a7c" stroke="#0c2038" stroke-width="0.75"/>
<line x1="320.75" y1="48.82" x2="342.00" y2="102.02" stroke="#222" stroke-width="0.7"/>
<line x1="320.75" y1="50.95" x2="342.00" y2="103.85" stroke="#222" stroke-width="0.7"/>
<line x1="320.75" y1="86.82" x2="342.00" y2="105.06" stroke="#222" stroke-width="0.7"/>
<line x1="320.75" y1="92.29" x2="342.00" y2="106.89" stroke="#222" stroke-width="0.7"/>
<line x1="320.75" y1="100.81" x2="342.00" y2="108.71" stroke="#222" stroke-width="0.7"/>
<line x1="320.75" y1="110.53" x2="342.00" y2="110.53" stroke="#222" stroke-width="0.7"/>
<circle cx="320.75" cy="48.82" r="2.9" fill="#b8163c" stroke="#6a0c22" stroke-width="0.75"/>
<circle cx="320.75" cy="50.95" r="2.9" fill="#b8163c" stroke="#6a0c22" stroke-width="0.75"/>
<circle cx="320.75" cy="86.82" r="2.9" fill="#b8163c" stroke="#6a0c22" stroke-width="0.75"/>
<circle cx="320.75" cy="92.29" r="2.9" fill="#b8163c" stroke="#6a0c22" stroke-width="0.75"/>
<circle cx="320.75" cy="100.81" r="2.9" fill="#b8163c" stroke="#6a0c22" stroke-width="0.75"/>
<circle cx="320.75" cy="110.53" r="2.9" fill="#b8163c" stroke="#6a0c22" stroke-width="0.75"/>
<circle cx="342.00" cy="102.02" r="2.9" fill="#4aab4a" stroke="#1d5e26" stroke-width="0.75"/>
<circle cx="342.00" cy="103.85" r="2.9" fill="#4aab4a" stroke="#1d5e26" stroke-width="0.75"/>
<circle cx="342.00" cy="105.06" r="2.9" fill="#4aab4a" stroke="#1d5e26" stroke-width="0.75"/>
<circle cx="342.00" cy="106.89" r="2.9" fill="#4aab4a" stroke="#1d5e26" stroke-width="0.75"/>
<circle cx="342.00" cy="108.71" r="2.9" fill="#4aab4a" stroke="#1d5e26" stroke-width="0.75"/>
<circle cx="342.00" cy="110.53" r="2.9" fill="#4aab4a" stroke="#1d5e26" stroke-width="0.75"/>
<text x="299.75" y="123.00" font-size="7.8" text-anchor="end" fill="#333" stroke="#333" stroke-width="0.12" textLength="9.00" lengthAdjust="spacingAndGlyphs" transform="rotate(-45 299.75 123.00)">HC</text>
<text x="321.75" y="123.00" font-size="7.8" text-anchor="end" fill="#333" stroke="#333" stroke-width="0.12" textLength="26.50" lengthAdjust="spacingAndGlyphs" transform="rotate(-45 321.75 123.00)">m-IC-Pre</text>
<text x="343.00" y="123.00" font-size="7.8" text-anchor="end" fill="#333" stroke="#333" stroke-width="0.12" textLength="29.50" lengthAdjust="spacingAndGlyphs" transform="rotate(-45 343.00 123.00)">m-IC-Post</text>
<text x="375.60" y="9.80" font-size="11.6" text-anchor="start" fill="#111" stroke="#111" stroke-width="0.12" font-weight="bold">C</text>
<text x="416.00" y="17.50" font-size="8.4" text-anchor="start" fill="#222" stroke="#222" stroke-width="0.12" textLength="47.75" lengthAdjust="spacingAndGlyphs">Naive CD4<tspan font-size="6" dy="-3.2">+</tspan><tspan dy="3.2"> T</tspan></text>
<line x1="406.25" y1="33.50" x2="406.25" y2="110.50" stroke="#1e1e1e" stroke-width="1.3"/>
<line x1="403.25" y1="36.75" x2="406.25" y2="36.75" stroke="#1e1e1e" stroke-width="1.3"/>
<text x="401.25" y="39.15" font-size="6.8" text-anchor="end" fill="#333" stroke="#333" stroke-width="0.12">100</text>
<line x1="403.25" y1="51.25" x2="406.25" y2="51.25" stroke="#1e1e1e" stroke-width="1.3"/>
<text x="401.25" y="53.65" font-size="6.8" text-anchor="end" fill="#333" stroke="#333" stroke-width="0.12">80</text>
<line x1="403.25" y1="65.75" x2="406.25" y2="65.75" stroke="#1e1e1e" stroke-width="1.3"/>
<text x="401.25" y="68.15" font-size="6.8" text-anchor="end" fill="#333" stroke="#333" stroke-width="0.12">60</text>
<line x1="403.25" y1="80.75" x2="406.25" y2="80.75" stroke="#1e1e1e" stroke-width="1.3"/>
<text x="401.25" y="83.15" font-size="6.8" text-anchor="end" fill="#333" stroke="#333" stroke-width="0.12">40</text>
<line x1="403.25" y1="95.50" x2="406.25" y2="95.50" stroke="#1e1e1e" stroke-width="1.3"/>
<text x="401.25" y="97.90" font-size="6.8" text-anchor="end" fill="#333" stroke="#333" stroke-width="0.12">20</text>
<line x1="403.25" y1="110.00" x2="406.25" y2="110.00" stroke="#1e1e1e" stroke-width="1.3"/>
<text x="401.25" y="112.40" font-size="6.8" text-anchor="end" fill="#333" stroke="#333" stroke-width="0.12">0</text>
<line x1="406.25" y1="110.50" x2="472.50" y2="110.50" stroke="#1e1e1e" stroke-width="1.4"/>
<line x1="418.75" y1="110.50" x2="418.75" y2="113.00" stroke="#1e1e1e" stroke-width="1.0"/>
<line x1="439.25" y1="110.50" x2="439.25" y2="113.00" stroke="#1e1e1e" stroke-width="1.0"/>
<line x1="459.25" y1="110.50" x2="459.25" y2="113.00" stroke="#1e1e1e" stroke-width="1.0"/>
<line x1="418.75" y1="30.75" x2="462.00" y2="30.75" stroke="#6e6e6e" stroke-width="1.15"/>
<text x="440.38" y="28.90" font-size="7.0" text-anchor="middle" fill="#333" stroke="#333" stroke-width="0.12">ns</text>
<line x1="418.75" y1="41.25" x2="438.75" y2="41.25" stroke="#6e6e6e" stroke-width="1.15"/>
<text x="428.75" y="39.40" font-size="7.0" text-anchor="middle" fill="#333" stroke="#333" stroke-width="0.12">ns</text>
<line x1="438.75" y1="46.25" x2="458.75" y2="46.25" stroke="#6e6e6e" stroke-width="1.15"/>
<text x="448.75" y="44.40" font-size="7.0" text-anchor="middle" fill="#333" stroke="#333" stroke-width="0.12">ns</text>
<text x="384.50" y="72.80" font-size="8.4" text-anchor="middle" fill="#333" stroke="#333" stroke-width="0.12" textLength="59.00" lengthAdjust="spacingAndGlyphs" transform="rotate(-90 384.50 72.80)">% CCR7<tspan font-size="6" dy="-3.2">+</tspan><tspan dy="3.2"> CD45RA</tspan><tspan font-size="6" dy="-3.2">+</tspan></text>
<circle cx="419.30" cy="44.88" r="2.6" fill="#1e4a7c" stroke="#0c2038" stroke-width="0.75"/>
<circle cx="419.30" cy="61.53" r="2.6" fill="#1e4a7c" stroke="#0c2038" stroke-width="0.75"/>
<circle cx="423.30" cy="61.90" r="2.6" fill="#1e4a7c" stroke="#0c2038" stroke-width="0.75"/>
<circle cx="415.30" cy="62.27" r="2.6" fill="#1e4a7c" stroke="#0c2038" stroke-width="0.75"/>
<circle cx="419.30" cy="67.08" r="2.6" fill="#1e4a7c" stroke="#0c2038" stroke-width="0.75"/>
<circle cx="423.30" cy="68.56" r="2.6" fill="#1e4a7c" stroke="#0c2038" stroke-width="0.75"/>
<circle cx="415.30" cy="70.04" r="2.6" fill="#1e4a7c" stroke="#0c2038" stroke-width="0.75"/>
<circle cx="419.30" cy="71.15" r="2.6" fill="#1e4a7c" stroke="#0c2038" stroke-width="0.75"/>
<circle cx="423.30" cy="73.00" r="2.6" fill="#1e4a7c" stroke="#0c2038" stroke-width="0.75"/>
<circle cx="415.30" cy="74.48" r="2.6" fill="#1e4a7c" stroke="#0c2038" stroke-width="0.75"/>
<circle cx="419.30" cy="75.22" r="2.6" fill="#1e4a7c" stroke="#0c2038" stroke-width="0.75"/>
<circle cx="423.30" cy="76.70" r="2.6" fill="#1e4a7c" stroke="#0c2038" stroke-width="0.75"/>
<circle cx="417.30" cy="77.44" r="2.6" fill="#1e4a7c" stroke="#0c2038" stroke-width="0.75"/>
<circle cx="421.30" cy="78.55" r="2.6" fill="#1e4a7c" stroke="#0c2038" stroke-width="0.75"/>
<circle cx="415.30" cy="79.66" r="2.6" fill="#1e4a7c" stroke="#0c2038" stroke-width="0.75"/>
<circle cx="419.30" cy="81.14" r="2.6" fill="#1e4a7c" stroke="#0c2038" stroke-width="0.75"/>
<circle cx="423.30" cy="82.62" r="2.6" fill="#1e4a7c" stroke="#0c2038" stroke-width="0.75"/>
<circle cx="415.30" cy="84.10" r="2.6" fill="#1e4a7c" stroke="#0c2038" stroke-width="0.75"/>
<circle cx="419.30" cy="85.58" r="2.6" fill="#1e4a7c" stroke="#0c2038" stroke-width="0.75"/>
<circle cx="423.30" cy="87.43" r="2.6" fill="#1e4a7c" stroke="#0c2038" stroke-width="0.75"/>
<circle cx="415.30" cy="88.91" r="2.6" fill="#1e4a7c" stroke="#0c2038" stroke-width="0.75"/>
<line x1="439.25" y1="55.98" x2="459.25" y2="50.06" stroke="#222" stroke-width="0.7"/>
<line x1="439.25" y1="61.16" x2="459.25" y2="53.76" stroke="#222" stroke-width="0.7"/>
<line x1="439.25" y1="61.90" x2="459.25" y2="61.16" stroke="#222" stroke-width="0.7"/>
<line x1="439.25" y1="73.00" x2="459.25" y2="65.60" stroke="#222" stroke-width="0.7"/>
<line x1="439.25" y1="76.70" x2="459.25" y2="77.44" stroke="#222" stroke-width="0.7"/>
<line x1="439.25" y1="78.18" x2="459.25" y2="78.92" stroke="#222" stroke-width="0.7"/>
<line x1="439.25" y1="82.62" x2="459.25" y2="79.66" stroke="#222" stroke-width="0.7"/>
<line x1="439.25" y1="83.36" x2="459.25" y2="92.24" stroke="#222" stroke-width="0.7"/>
<line x1="439.25" y1="101.12" x2="459.25" y2="103.34" stroke="#222" stroke-width="0.7"/>
<circle cx="439.25" cy="55.98" r="2.7" fill="#b8163c" stroke="#6a0c22" stroke-width="0.75"/>
<circle cx="439.25" cy="61.16" r="2.7" fill="#b8163c" stroke="#6a0c22" stroke-width="0.75"/>
<circle cx="439.25" cy="61.90" r="2.7" fill="#b8163c" stroke="#6a0c22" stroke-width="0.75"/>
<circle cx="439.25" cy="73.00" r="2.7" fill="#b8163c" stroke="#6a0c22" stroke-width="0.75"/>
<circle cx="439.25" cy="76.70" r="2.7" fill="#b8163c" stroke="#6a0c22" stroke-width="0.75"/>
<circle cx="439.25" cy="78.18" r="2.7" fill="#b8163c" stroke="#6a0c22" stroke-width="0.75"/>
<circle cx="439.25" cy="82.62" r="2.7" fill="#b8163c" stroke="#6a0c22" stroke-width="0.75"/>
<circle cx="439.25" cy="83.36" r="2.7" fill="#b8163c" stroke="#6a0c22" stroke-width="0.75"/>
<circle cx="439.25" cy="101.12" r="2.7" fill="#b8163c" stroke="#6a0c22" stroke-width="0.75"/>
<circle cx="459.25" cy="50.06" r="2.7" fill="#4aab4a" stroke="#1d5e26" stroke-width="0.75"/>
<circle cx="459.25" cy="53.76" r="2.7" fill="#4aab4a" stroke="#1d5e26" stroke-width="0.75"/>
<circle cx="459.25" cy="61.16" r="2.7" fill="#4aab4a" stroke="#1d5e26" stroke-width="0.75"/>
<circle cx="459.25" cy="65.60" r="2.7" fill="#4aab4a" stroke="#1d5e26" stroke-width="0.75"/>
<circle cx="459.25" cy="77.44" r="2.7" fill="#4aab4a" stroke="#1d5e26" stroke-width="0.75"/>
<circle cx="459.25" cy="78.92" r="2.7" fill="#4aab4a" stroke="#1d5e26" stroke-width="0.75"/>
<circle cx="459.25" cy="79.66" r="2.7" fill="#4aab4a" stroke="#1d5e26" stroke-width="0.75"/>
<circle cx="459.25" cy="92.24" r="2.7" fill="#4aab4a" stroke="#1d5e26" stroke-width="0.75"/>
<circle cx="459.25" cy="103.34" r="2.7" fill="#4aab4a" stroke="#1d5e26" stroke-width="0.75"/>
<text x="419.75" y="121.00" font-size="7.8" text-anchor="end" fill="#333" stroke="#333" stroke-width="0.12" textLength="9.00" lengthAdjust="spacingAndGlyphs" transform="rotate(-45 419.75 121.00)">HC</text>
<text x="440.25" y="121.00" font-size="7.8" text-anchor="end" fill="#333" stroke="#333" stroke-width="0.12" textLength="26.50" lengthAdjust="spacingAndGlyphs" transform="rotate(-45 440.25 121.00)">m-IC-Pre</text>
<text x="460.25" y="121.00" font-size="7.8" text-anchor="end" fill="#333" stroke="#333" stroke-width="0.12" textLength="29.50" lengthAdjust="spacingAndGlyphs" transform="rotate(-45 460.25 121.00)">m-IC-Post</text>
<text x="11.20" y="167.70" font-size="11.6" text-anchor="start" fill="#111" stroke="#111" stroke-width="0.12" font-weight="bold">D</text>
<text x="44.50" y="184.25" font-size="8.4" text-anchor="start" fill="#222" stroke="#222" stroke-width="0.12" textLength="68.50" lengthAdjust="spacingAndGlyphs">Gated on CD4<tspan font-size="6" dy="-3.2">+</tspan><tspan dy="3.2"> EM</tspan></text>
<line x1="37.00" y1="198.20" x2="37.00" y2="293.90" stroke="#1e1e1e" stroke-width="1.3"/>
<line x1="34.00" y1="201.25" x2="37.00" y2="201.25" stroke="#1e1e1e" stroke-width="1.3"/>
<text x="32.00" y="203.65" font-size="6.8" text-anchor="end" fill="#333" stroke="#333" stroke-width="0.12">5</text>
<line x1="34.00" y1="219.50" x2="37.00" y2="219.50" stroke="#1e1e1e" stroke-width="1.3"/>
<text x="32.00" y="221.90" font-size="6.8" text-anchor="end" fill="#333" stroke="#333" stroke-width="0.12">4</text>
<line x1="34.00" y1="238.00" x2="37.00" y2="238.00" stroke="#1e1e1e" stroke-width="1.3"/>
<text x="32.00" y="240.40" font-size="6.8" text-anchor="end" fill="#333" stroke="#333" stroke-width="0.12">3</text>
<line x1="34.00" y1="256.75" x2="37.00" y2="256.75" stroke="#1e1e1e" stroke-width="1.3"/>
<text x="32.00" y="259.15" font-size="6.8" text-anchor="end" fill="#333" stroke="#333" stroke-width="0.12">2</text>
<line x1="34.00" y1="275.00" x2="37.00" y2="275.00" stroke="#1e1e1e" stroke-width="1.3"/>
<text x="32.00" y="277.40" font-size="6.8" text-anchor="end" fill="#333" stroke="#333" stroke-width="0.12">1</text>
<line x1="34.00" y1="293.75" x2="37.00" y2="293.75" stroke="#1e1e1e" stroke-width="1.3"/>
<text x="32.00" y="296.15" font-size="6.8" text-anchor="end" fill="#333" stroke="#333" stroke-width="0.12">0</text>
<line x1="37.00" y1="293.90" x2="120.00" y2="293.90" stroke="#1e1e1e" stroke-width="1.4"/>
<line x1="53.30" y1="293.90" x2="53.30" y2="296.40" stroke="#1e1e1e" stroke-width="1.0"/>
<line x1="78.20" y1="293.90" x2="78.20" y2="296.40" stroke="#1e1e1e" stroke-width="1.0"/>
<line x1="102.70" y1="293.90" x2="102.70" y2="296.40" stroke="#1e1e1e" stroke-width="1.0"/>
<line x1="55.00" y1="195.75" x2="101.25" y2="195.75" stroke="#6e6e6e" stroke-width="1.15"/>
<text x="78.12" y="193.90" font-size="7.0" text-anchor="middle" fill="#333" stroke="#333" stroke-width="0.12">ns</text>
<line x1="55.50" y1="208.00" x2="81.25" y2="208.00" stroke="#6e6e6e" stroke-width="1.15"/>
<text x="68.38" y="208.90" font-size="7.5" text-anchor="middle" fill="#222" stroke="#222" stroke-width="0.12" font-weight="bold">**</text>
<line x1="81.25" y1="215.50" x2="107.50" y2="215.50" stroke="#6e6e6e" stroke-width="1.15"/>
<text x="94.38" y="216.40" font-size="7.5" text-anchor="middle" fill="#222" stroke="#222" stroke-width="0.12" font-weight="bold">*</text>
<text x="21.20" y="247.00" font-size="8.4" text-anchor="middle" fill="#333" stroke="#333" stroke-width="0.12" textLength="49.00" lengthAdjust="spacingAndGlyphs" transform="rotate(-90 21.20 247.00)">% PD-1<tspan font-size="6" dy="-3.2">+</tspan><tspan dy="3.2"> Tim3</tspan><tspan font-size="6" dy="-3.2">+</tspan></text>
<circle cx="53.30" cy="275.62" r="3.0" fill="#1e4a7c" stroke="#0c2038" stroke-width="0.75"/>
<circle cx="53.30" cy="286.35" r="3.0" fill="#1e4a7c" stroke="#0c2038" stroke-width="0.75"/>
<circle cx="59.30" cy="287.27" r="3.0" fill="#1e4a7c" stroke="#0c2038" stroke-width="0.75"/>
<circle cx="47.30" cy="288.20" r="3.0" fill="#1e4a7c" stroke="#0c2038" stroke-width="0.75"/>
<circle cx="55.30" cy="289.12" r="3.0" fill="#1e4a7c" stroke="#0c2038" stroke-width="0.75"/>
<circle cx="51.30" cy="289.68" r="3.0" fill="#1e4a7c" stroke="#0c2038" stroke-width="0.75"/>
<circle cx="59.30" cy="290.05" r="3.0" fill="#1e4a7c" stroke="#0c2038" stroke-width="0.75"/>
<circle cx="47.30" cy="290.42" r="3.0" fill="#1e4a7c" stroke="#0c2038" stroke-width="0.75"/>
<circle cx="53.30" cy="290.98" r="3.0" fill="#1e4a7c" stroke="#0c2038" stroke-width="0.75"/>
<circle cx="57.30" cy="291.53" r="3.0" fill="#1e4a7c" stroke="#0c2038" stroke-width="0.75"/>
<circle cx="49.30" cy="291.90" r="3.0" fill="#1e4a7c" stroke="#0c2038" stroke-width="0.75"/>
<circle cx="55.30" cy="292.27" r="3.0" fill="#1e4a7c" stroke="#0c2038" stroke-width="0.75"/>
<circle cx="59.30" cy="292.64" r="3.0" fill="#1e4a7c" stroke="#0c2038" stroke-width="0.75"/>
<circle cx="51.30" cy="292.82" r="3.0" fill="#1e4a7c" stroke="#0c2038" stroke-width="0.75"/>
<circle cx="47.30" cy="293.01" r="3.0" fill="#1e4a7c" stroke="#0c2038" stroke-width="0.75"/>
<circle cx="53.30" cy="293.19" r="3.0" fill="#1e4a7c" stroke="#0c2038" stroke-width="0.75"/>
<circle cx="57.30" cy="293.38" r="3.0" fill="#1e4a7c" stroke="#0c2038" stroke-width="0.75"/>
<circle cx="49.30" cy="293.56" r="3.0" fill="#1e4a7c" stroke="#0c2038" stroke-width="0.75"/>
<circle cx="55.30" cy="293.75" r="3.0" fill="#1e4a7c" stroke="#0c2038" stroke-width="0.75"/>
<line x1="78.20" y1="222.34" x2="102.70" y2="277.10" stroke="#222" stroke-width="0.7"/>
<line x1="78.20" y1="227.34" x2="102.70" y2="290.05" stroke="#222" stroke-width="0.7"/>
<line x1="78.20" y1="267.67" x2="102.70" y2="291.53" stroke="#222" stroke-width="0.7"/>
<line x1="78.20" y1="271.37" x2="102.70" y2="292.64" stroke="#222" stroke-width="0.7"/>
<line x1="78.20" y1="274.88" x2="102.70" y2="291.90" stroke="#222" stroke-width="0.7"/>
<line x1="78.20" y1="285.06" x2="102.70" y2="293.19" stroke="#222" stroke-width="0.7"/>
<line x1="78.20" y1="290.05" x2="102.70" y2="293.75" stroke="#222" stroke-width="0.7"/>
<line x1="78.20" y1="293.75" x2="102.70" y2="293.38" stroke="#222" stroke-width="0.7"/>
<circle cx="78.20" cy="222.34" r="3.0" fill="#b8163c" stroke="#6a0c22" stroke-width="0.75"/>
<circle cx="78.20" cy="227.34" r="3.0" fill="#b8163c" stroke="#6a0c22" stroke-width="0.75"/>
<circle cx="78.20" cy="267.67" r="3.0" fill="#b8163c" stroke="#6a0c22" stroke-width="0.75"/>
<circle cx="78.20" cy="271.37" r="3.0" fill="#b8163c" stroke="#6a0c22" stroke-width="0.75"/>
<circle cx="78.20" cy="274.88" r="3.0" fill="#b8163c" stroke="#6a0c22" stroke-width="0.75"/>
<circle cx="78.20" cy="285.06" r="3.0" fill="#b8163c" stroke="#6a0c22" stroke-width="0.75"/>
<circle cx="78.20" cy="290.05" r="3.0" fill="#b8163c" stroke="#6a0c22" stroke-width="0.75"/>
<circle cx="78.20" cy="293.75" r="3.0" fill="#b8163c" stroke="#6a0c22" stroke-width="0.75"/>
<circle cx="102.70" cy="277.10" r="3.0" fill="#4aab4a" stroke="#1d5e26" stroke-width="0.75"/>
<circle cx="102.70" cy="290.05" r="3.0" fill="#4aab4a" stroke="#1d5e26" stroke-width="0.75"/>
<circle cx="102.70" cy="291.53" r="3.0" fill="#4aab4a" stroke="#1d5e26" stroke-width="0.75"/>
<circle cx="102.70" cy="292.64" r="3.0" fill="#4aab4a" stroke="#1d5e26" stroke-width="0.75"/>
<circle cx="102.70" cy="291.90" r="3.0" fill="#4aab4a" stroke="#1d5e26" stroke-width="0.75"/>
<circle cx="102.70" cy="293.19" r="3.0" fill="#4aab4a" stroke="#1d5e26" stroke-width="0.75"/>
<circle cx="102.70" cy="293.75" r="3.0" fill="#4aab4a" stroke="#1d5e26" stroke-width="0.75"/>
<circle cx="102.70" cy="293.38" r="3.0" fill="#4aab4a" stroke="#1d5e26" stroke-width="0.75"/>
<text x="54.30" y="304.40" font-size="7.8" text-anchor="end" fill="#333" stroke="#333" stroke-width="0.12" textLength="9.00" lengthAdjust="spacingAndGlyphs" transform="rotate(-45 54.30 304.40)">HC</text>
<text x="79.20" y="304.40" font-size="7.8" text-anchor="end" fill="#333" stroke="#333" stroke-width="0.12" textLength="26.50" lengthAdjust="spacingAndGlyphs" transform="rotate(-45 79.20 304.40)">m-IC-Pre</text>
<text x="103.70" y="304.40" font-size="7.8" text-anchor="end" fill="#333" stroke="#333" stroke-width="0.12" textLength="29.50" lengthAdjust="spacingAndGlyphs" transform="rotate(-45 103.70 304.40)">m-IC-Post</text>
<text x="139.80" y="167.70" font-size="11.6" text-anchor="start" fill="#111" stroke="#111" stroke-width="0.12" font-weight="bold">E</text>
<text x="173.75" y="183.75" font-size="8.4" text-anchor="start" fill="#222" stroke="#222" stroke-width="0.12" textLength="68.30" lengthAdjust="spacingAndGlyphs">Gated on CD4<tspan font-size="6" dy="-3.2">+</tspan><tspan dy="3.2"> EM</tspan></text>
<line x1="165.75" y1="196.00" x2="165.75" y2="292.00" stroke="#1e1e1e" stroke-width="1.3"/>
<line x1="162.75" y1="199.00" x2="165.75" y2="199.00" stroke="#1e1e1e" stroke-width="1.3"/>
<text x="160.75" y="201.40" font-size="6.8" text-anchor="end" fill="#333" stroke="#333" stroke-width="0.12">40</text>
<line x1="162.75" y1="222.00" x2="165.75" y2="222.00" stroke="#1e1e1e" stroke-width="1.3"/>
<text x="160.75" y="224.40" font-size="6.8" text-anchor="end" fill="#333" stroke="#333" stroke-width="0.12">30</text>
<line x1="162.75" y1="245.00" x2="165.75" y2="245.00" stroke="#1e1e1e" stroke-width="1.3"/>
<text x="160.75" y="247.40" font-size="6.8" text-anchor="end" fill="#333" stroke="#333" stroke-width="0.12">20</text>
<line x1="162.75" y1="268.25" x2="165.75" y2="268.25" stroke="#1e1e1e" stroke-width="1.3"/>
<text x="160.75" y="270.65" font-size="6.8" text-anchor="end" fill="#333" stroke="#333" stroke-width="0.12">10</text>
<line x1="162.75" y1="291.75" x2="165.75" y2="291.75" stroke="#1e1e1e" stroke-width="1.3"/>
<text x="160.75" y="294.15" font-size="6.8" text-anchor="end" fill="#333" stroke="#333" stroke-width="0.12">0</text>
<line x1="165.75" y1="292.00" x2="250.00" y2="292.00" stroke="#1e1e1e" stroke-width="1.4"/>
<line x1="182.70" y1="292.00" x2="182.70" y2="294.50" stroke="#1e1e1e" stroke-width="1.0"/>
<line x1="207.30" y1="292.00" x2="207.30" y2="294.50" stroke="#1e1e1e" stroke-width="1.0"/>
<line x1="232.20" y1="292.00" x2="232.20" y2="294.50" stroke="#1e1e1e" stroke-width="1.0"/>
<line x1="181.25" y1="194.25" x2="232.50" y2="194.25" stroke="#6e6e6e" stroke-width="1.15"/>
<text x="206.88" y="192.40" font-size="7.0" text-anchor="middle" fill="#333" stroke="#333" stroke-width="0.12">ns</text>
<line x1="181.75" y1="203.25" x2="208.00" y2="203.25" stroke="#6e6e6e" stroke-width="1.15"/>
<text x="194.88" y="204.40" font-size="7.5" text-anchor="middle" fill="#222" stroke="#222" stroke-width="0.12" font-weight="bold">*</text>
<line x1="208.00" y1="209.50" x2="233.75" y2="209.50" stroke="#6e6e6e" stroke-width="1.15"/>
<text x="220.88" y="210.40" font-size="7.5" text-anchor="middle" fill="#222" stroke="#222" stroke-width="0.12" font-weight="bold">**</text>
<text x="147.50" y="249.00" font-size="8.4" text-anchor="middle" fill="#333" stroke="#333" stroke-width="0.12" textLength="33.00" lengthAdjust="spacingAndGlyphs" transform="rotate(-90 147.50 249.00)">% CD57<tspan font-size="6" dy="-3.2">+</tspan></text>
<circle cx="182.70" cy="220.29" r="2.85" fill="#1e4a7c" stroke="#0c2038" stroke-width="0.75"/>
<circle cx="182.70" cy="245.73" r="2.85" fill="#1e4a7c" stroke="#0c2038" stroke-width="0.75"/>
<circle cx="182.70" cy="253.36" r="2.85" fill="#1e4a7c" stroke="#0c2038" stroke-width="0.75"/>
<circle cx="187.10" cy="257.29" r="2.85" fill="#1e4a7c" stroke="#0c2038" stroke-width="0.75"/>
<circle cx="182.70" cy="260.53" r="2.85" fill="#1e4a7c" stroke="#0c2038" stroke-width="0.75"/>
<circle cx="187.10" cy="262.15" r="2.85" fill="#1e4a7c" stroke="#0c2038" stroke-width="0.75"/>
<circle cx="178.30" cy="263.54" r="2.85" fill="#1e4a7c" stroke="#0c2038" stroke-width="0.75"/>
<circle cx="182.70" cy="264.46" r="2.85" fill="#1e4a7c" stroke="#0c2038" stroke-width="0.75"/>
<circle cx="189.30" cy="265.16" r="2.85" fill="#1e4a7c" stroke="#0c2038" stroke-width="0.75"/>
<circle cx="176.10" cy="266.31" r="2.85" fill="#1e4a7c" stroke="#0c2038" stroke-width="0.75"/>
<circle cx="184.90" cy="268.16" r="2.85" fill="#1e4a7c" stroke="#0c2038" stroke-width="0.75"/>
<circle cx="180.50" cy="269.78" r="2.85" fill="#1e4a7c" stroke="#0c2038" stroke-width="0.75"/>
<circle cx="189.30" cy="271.40" r="2.85" fill="#1e4a7c" stroke="#0c2038" stroke-width="0.75"/>
<circle cx="184.90" cy="273.25" r="2.85" fill="#1e4a7c" stroke="#0c2038" stroke-width="0.75"/>
<circle cx="180.50" cy="275.10" r="2.85" fill="#1e4a7c" stroke="#0c2038" stroke-width="0.75"/>
<circle cx="189.30" cy="276.72" r="2.85" fill="#1e4a7c" stroke="#0c2038" stroke-width="0.75"/>
<circle cx="184.90" cy="278.80" r="2.85" fill="#1e4a7c" stroke="#0c2038" stroke-width="0.75"/>
<circle cx="180.50" cy="280.65" r="2.85" fill="#1e4a7c" stroke="#0c2038" stroke-width="0.75"/>
<circle cx="187.10" cy="282.96" r="2.85" fill="#1e4a7c" stroke="#0c2038" stroke-width="0.75"/>
<circle cx="182.70" cy="285.74" r="2.85" fill="#1e4a7c" stroke="#0c2038" stroke-width="0.75"/>
<line x1="175.00" y1="265.50" x2="190.50" y2="265.50" stroke="#111" stroke-width="1.3"/>
<line x1="207.30" y1="215.67" x2="232.20" y2="269.20" stroke="#222" stroke-width="0.7"/>
<line x1="207.30" y1="226.54" x2="232.20" y2="239.26" stroke="#222" stroke-width="0.7"/>
<line x1="207.30" y1="228.62" x2="232.20" y2="246.19" stroke="#222" stroke-width="0.7"/>
<line x1="207.30" y1="246.19" x2="232.20" y2="251.51" stroke="#222" stroke-width="0.7"/>
<line x1="207.30" y1="256.14" x2="232.20" y2="271.17" stroke="#222" stroke-width="0.7"/>
<line x1="207.30" y1="258.22" x2="232.20" y2="275.33" stroke="#222" stroke-width="0.7"/>
<line x1="207.30" y1="263.07" x2="232.20" y2="282.50" stroke="#222" stroke-width="0.7"/>
<line x1="207.30" y1="269.20" x2="232.20" y2="284.58" stroke="#222" stroke-width="0.7"/>
<line x1="207.30" y1="288.98" x2="232.20" y2="288.98" stroke="#222" stroke-width="0.7"/>
<circle cx="207.30" cy="215.67" r="3.0" fill="#b8163c" stroke="#6a0c22" stroke-width="0.75"/>
<circle cx="207.30" cy="226.54" r="3.0" fill="#b8163c" stroke="#6a0c22" stroke-width="0.75"/>
<circle cx="207.30" cy="228.62" r="3.0" fill="#b8163c" stroke="#6a0c22" stroke-width="0.75"/>
<circle cx="207.30" cy="246.19" r="3.0" fill="#b8163c" stroke="#6a0c22" stroke-width="0.75"/>
<circle cx="207.30" cy="256.14" r="3.0" fill="#b8163c" stroke="#6a0c22" stroke-width="0.75"/>
<circle cx="207.30" cy="258.22" r="3.0" fill="#b8163c" stroke="#6a0c22" stroke-width="0.75"/>
<circle cx="207.30" cy="263.07" r="3.0" fill="#b8163c" stroke="#6a0c22" stroke-width="0.75"/>
<circle cx="207.30" cy="269.20" r="3.0" fill="#b8163c" stroke="#6a0c22" stroke-width="0.75"/>
<circle cx="207.30" cy="288.98" r="3.0" fill="#b8163c" stroke="#6a0c22" stroke-width="0.75"/>
<circle cx="232.20" cy="269.20" r="3.0" fill="#4aab4a" stroke="#1d5e26" stroke-width="0.75"/>
<circle cx="232.20" cy="239.26" r="3.0" fill="#4aab4a" stroke="#1d5e26" stroke-width="0.75"/>
<circle cx="232.20" cy="246.19" r="3.0" fill="#4aab4a" stroke="#1d5e26" stroke-width="0.75"/>
<circle cx="232.20" cy="251.51" r="3.0" fill="#4aab4a" stroke="#1d5e26" stroke-width="0.75"/>
<circle cx="232.20" cy="271.17" r="3.0" fill="#4aab4a" stroke="#1d5e26" stroke-width="0.75"/>
<circle cx="232.20" cy="275.33" r="3.0" fill="#4aab4a" stroke="#1d5e26" stroke-width="0.75"/>
<circle cx="232.20" cy="282.50" r="3.0" fill="#4aab4a" stroke="#1d5e26" stroke-width="0.75"/>
<circle cx="232.20" cy="284.58" r="3.0" fill="#4aab4a" stroke="#1d5e26" stroke-width="0.75"/>
<circle cx="232.20" cy="288.98" r="3.0" fill="#4aab4a" stroke="#1d5e26" stroke-width="0.75"/>
<text x="183.70" y="302.50" font-size="7.8" text-anchor="end" fill="#333" stroke="#333" stroke-width="0.12" textLength="9.00" lengthAdjust="spacingAndGlyphs" transform="rotate(-45 183.70 302.50)">HC</text>
<text x="208.30" y="302.50" font-size="7.8" text-anchor="end" fill="#333" stroke="#333" stroke-width="0.12" textLength="26.50" lengthAdjust="spacingAndGlyphs" transform="rotate(-45 208.30 302.50)">m-IC-Pre</text>
<text x="233.20" y="302.50" font-size="7.8" text-anchor="end" fill="#333" stroke="#333" stroke-width="0.12" textLength="29.50" lengthAdjust="spacingAndGlyphs" transform="rotate(-45 233.20 302.50)">m-IC-Post</text>
<text x="270.40" y="167.70" font-size="11.6" text-anchor="start" fill="#111" stroke="#111" stroke-width="0.12" font-weight="bold">F</text>
<text x="323.00" y="182.50" font-size="8.4" text-anchor="start" fill="#222" stroke="#222" stroke-width="0.12" textLength="22.00" lengthAdjust="spacingAndGlyphs">CSMB</text>
<line x1="294.50" y1="198.00" x2="294.50" y2="288.00" stroke="#1e1e1e" stroke-width="1.3"/>
<line x1="291.50" y1="200.75" x2="294.50" y2="200.75" stroke="#1e1e1e" stroke-width="1.3"/>
<text x="289.50" y="203.15" font-size="6.8" text-anchor="end" fill="#333" stroke="#333" stroke-width="0.12">20</text>
<line x1="291.50" y1="222.50" x2="294.50" y2="222.50" stroke="#1e1e1e" stroke-width="1.3"/>
<text x="289.50" y="224.90" font-size="6.8" text-anchor="end" fill="#333" stroke="#333" stroke-width="0.12">15</text>
<line x1="291.50" y1="244.25" x2="294.50" y2="244.25" stroke="#1e1e1e" stroke-width="1.3"/>
<text x="289.50" y="246.65" font-size="6.8" text-anchor="end" fill="#333" stroke="#333" stroke-width="0.12">10</text>
<line x1="291.50" y1="265.75" x2="294.50" y2="265.75" stroke="#1e1e1e" stroke-width="1.3"/>
<text x="289.50" y="268.15" font-size="6.8" text-anchor="end" fill="#333" stroke="#333" stroke-width="0.12">5</text>
<line x1="291.50" y1="287.50" x2="294.50" y2="287.50" stroke="#1e1e1e" stroke-width="1.3"/>
<text x="289.50" y="289.90" font-size="6.8" text-anchor="end" fill="#333" stroke="#333" stroke-width="0.12">0</text>
<line x1="294.50" y1="288.00" x2="372.50" y2="288.00" stroke="#1e1e1e" stroke-width="1.4"/>
<line x1="310.75" y1="288.00" x2="310.75" y2="290.50" stroke="#1e1e1e" stroke-width="1.0"/>
<line x1="334.25" y1="288.00" x2="334.25" y2="290.50" stroke="#1e1e1e" stroke-width="1.0"/>
<line x1="357.00" y1="288.00" x2="357.00" y2="290.50" stroke="#1e1e1e" stroke-width="1.0"/>
<line x1="311.25" y1="192.50" x2="352.50" y2="192.50" stroke="#6e6e6e" stroke-width="1.15"/>
<text x="331.88" y="193.40" font-size="7.5" text-anchor="middle" fill="#222" stroke="#222" stroke-width="0.12" font-weight="bold">**</text>
<line x1="311.75" y1="203.25" x2="334.50" y2="203.25" stroke="#6e6e6e" stroke-width="1.15"/>
<text x="323.12" y="204.20" font-size="7.5" text-anchor="middle" fill="#222" stroke="#222" stroke-width="0.12" font-weight="bold">****</text>
<line x1="334.50" y1="210.00" x2="357.50" y2="210.00" stroke="#6e6e6e" stroke-width="1.15"/>
<text x="346.00" y="208.40" font-size="7.0" text-anchor="middle" fill="#333" stroke="#333" stroke-width="0.12">ns</text>
<text x="276.00" y="245.00" font-size="8.4" text-anchor="middle" fill="#333" stroke="#333" stroke-width="0.12" textLength="82.00" lengthAdjust="spacingAndGlyphs" transform="rotate(-90 276.00 245.00)">% CD19<tspan font-size="6" dy="-3.2">+</tspan><tspan dy="3.2"> CD27</tspan><tspan font-size="6" dy="-3.2">+</tspan><tspan dy="3.2"> IgM</tspan><tspan font-size="6" dy="-3.2">-</tspan><tspan dy="3.2"> IgD</tspan><tspan font-size="6" dy="-3.2">-</tspan></text>
<circle cx="310.75" cy="210.25" r="2.9" fill="#1e4a7c" stroke="#0c2038" stroke-width="0.75"/>
<circle cx="310.75" cy="241.50" r="2.9" fill="#1e4a7c" stroke="#0c2038" stroke-width="0.75"/>
<circle cx="316.75" cy="243.23" r="2.9" fill="#1e4a7c" stroke="#0c2038" stroke-width="0.75"/>
<circle cx="310.75" cy="251.04" r="2.9" fill="#1e4a7c" stroke="#0c2038" stroke-width="0.75"/>
<circle cx="310.75" cy="255.82" r="2.9" fill="#1e4a7c" stroke="#0c2038" stroke-width="0.75"/>
<circle cx="316.75" cy="257.12" r="2.9" fill="#1e4a7c" stroke="#0c2038" stroke-width="0.75"/>
<circle cx="304.75" cy="257.99" r="2.9" fill="#1e4a7c" stroke="#0c2038" stroke-width="0.75"/>
<circle cx="312.75" cy="259.29" r="2.9" fill="#1e4a7c" stroke="#0c2038" stroke-width="0.75"/>
<circle cx="308.75" cy="260.16" r="2.9" fill="#1e4a7c" stroke="#0c2038" stroke-width="0.75"/>
<circle cx="316.75" cy="260.59" r="2.9" fill="#1e4a7c" stroke="#0c2038" stroke-width="0.75"/>
<circle cx="304.75" cy="261.03" r="2.9" fill="#1e4a7c" stroke="#0c2038" stroke-width="0.75"/>
<circle cx="310.75" cy="261.46" r="2.9" fill="#1e4a7c" stroke="#0c2038" stroke-width="0.75"/>
<circle cx="314.75" cy="262.33" r="2.9" fill="#1e4a7c" stroke="#0c2038" stroke-width="0.75"/>
<circle cx="306.75" cy="263.63" r="2.9" fill="#1e4a7c" stroke="#0c2038" stroke-width="0.75"/>
<circle cx="310.75" cy="264.93" r="2.9" fill="#1e4a7c" stroke="#0c2038" stroke-width="0.75"/>
<circle cx="310.75" cy="270.14" r="2.9" fill="#1e4a7c" stroke="#0c2038" stroke-width="0.75"/>
<circle cx="316.75" cy="271.01" r="2.9" fill="#1e4a7c" stroke="#0c2038" stroke-width="0.75"/>
<circle cx="304.75" cy="272.31" r="2.9" fill="#1e4a7c" stroke="#0c2038" stroke-width="0.75"/>
<circle cx="312.75" cy="272.74" r="2.9" fill="#1e4a7c" stroke="#0c2038" stroke-width="0.75"/>
<circle cx="308.75" cy="274.48" r="2.9" fill="#1e4a7c" stroke="#0c2038" stroke-width="0.75"/>
<circle cx="316.75" cy="274.91" r="2.9" fill="#1e4a7c" stroke="#0c2038" stroke-width="0.75"/>
<circle cx="304.75" cy="277.08" r="2.9" fill="#1e4a7c" stroke="#0c2038" stroke-width="0.75"/>
<line x1="334.25" y1="269.27" x2="357.00" y2="256.25" stroke="#222" stroke-width="0.7"/>
<line x1="334.25" y1="276.22" x2="357.00" y2="264.06" stroke="#222" stroke-width="0.7"/>
<line x1="334.25" y1="277.95" x2="357.00" y2="269.27" stroke="#222" stroke-width="0.7"/>
<line x1="334.25" y1="279.69" x2="357.00" y2="279.69" stroke="#222" stroke-width="0.7"/>
<line x1="334.25" y1="280.99" x2="357.00" y2="280.56" stroke="#222" stroke-width="0.7"/>
<line x1="334.25" y1="282.29" x2="357.00" y2="282.29" stroke="#222" stroke-width="0.7"/>
<line x1="334.25" y1="284.03" x2="357.00" y2="284.03" stroke="#222" stroke-width="0.7"/>
<line x1="334.25" y1="285.33" x2="357.00" y2="285.33" stroke="#222" stroke-width="0.7"/>
<line x1="334.25" y1="286.63" x2="357.00" y2="286.20" stroke="#222" stroke-width="0.7"/>
<circle cx="334.25" cy="269.27" r="2.9" fill="#b8163c" stroke="#6a0c22" stroke-width="0.75"/>
<circle cx="334.25" cy="276.22" r="2.9" fill="#b8163c" stroke="#6a0c22" stroke-width="0.75"/>
<circle cx="334.25" cy="277.95" r="2.9" fill="#b8163c" stroke="#6a0c22" stroke-width="0.75"/>
<circle cx="334.25" cy="279.69" r="2.9" fill="#b8163c" stroke="#6a0c22" stroke-width="0.75"/>
<circle cx="334.25" cy="280.99" r="2.9" fill="#b8163c" stroke="#6a0c22" stroke-width="0.75"/>
<circle cx="334.25" cy="282.29" r="2.9" fill="#b8163c" stroke="#6a0c22" stroke-width="0.75"/>
<circle cx="334.25" cy="284.03" r="2.9" fill="#b8163c" stroke="#6a0c22" stroke-width="0.75"/>
<circle cx="334.25" cy="285.33" r="2.9" fill="#b8163c" stroke="#6a0c22" stroke-width="0.75"/>
<circle cx="334.25" cy="286.63" r="2.9" fill="#b8163c" stroke="#6a0c22" stroke-width="0.75"/>
<circle cx="357.00" cy="256.25" r="2.9" fill="#4aab4a" stroke="#1d5e26" stroke-width="0.75"/>
<circle cx="357.00" cy="264.06" r="2.9" fill="#4aab4a" stroke="#1d5e26" stroke-width="0.75"/>
<circle cx="357.00" cy="269.27" r="2.9" fill="#4aab4a" stroke="#1d5e26" stroke-width="0.75"/>
<circle cx="357.00" cy="279.69" r="2.9" fill="#4aab4a" stroke="#1d5e26" stroke-width="0.75"/>
<circle cx="357.00" cy="280.56" r="2.9" fill="#4aab4a" stroke="#1d5e26" stroke-width="0.75"/>
<circle cx="357.00" cy="282.29" r="2.9" fill="#4aab4a" stroke="#1d5e26" stroke-width="0.75"/>
<circle cx="357.00" cy="284.03" r="2.9" fill="#4aab4a" stroke="#1d5e26" stroke-width="0.75"/>
<circle cx="357.00" cy="285.33" r="2.9" fill="#4aab4a" stroke="#1d5e26" stroke-width="0.75"/>
<circle cx="357.00" cy="286.20" r="2.9" fill="#4aab4a" stroke="#1d5e26" stroke-width="0.75"/>
<text x="311.75" y="298.50" font-size="7.8" text-anchor="end" fill="#333" stroke="#333" stroke-width="0.12" textLength="9.00" lengthAdjust="spacingAndGlyphs" transform="rotate(-45 311.75 298.50)">HC</text>
<text x="335.25" y="298.50" font-size="7.8" text-anchor="end" fill="#333" stroke="#333" stroke-width="0.12" textLength="26.50" lengthAdjust="spacingAndGlyphs" transform="rotate(-45 335.25 298.50)">m-IC-Pre</text>
<text x="358.00" y="298.50" font-size="7.8" text-anchor="end" fill="#333" stroke="#333" stroke-width="0.12" textLength="29.50" lengthAdjust="spacingAndGlyphs" transform="rotate(-45 358.00 298.50)">m-IC-Post</text>
<text x="388.80" y="167.70" font-size="11.6" text-anchor="start" fill="#111" stroke="#111" stroke-width="0.12" font-weight="bold">G</text>
<text x="432.50" y="182.50" font-size="8.4" text-anchor="start" fill="#222" stroke="#222" stroke-width="0.12" textLength="55.50" lengthAdjust="spacingAndGlyphs">Immune scoring</text>
<line x1="411.25" y1="190.00" x2="411.25" y2="287.20" stroke="#1e1e1e" stroke-width="1.3"/>
<line x1="408.25" y1="192.00" x2="411.25" y2="192.00" stroke="#1e1e1e" stroke-width="1.3"/>
<text x="406.25" y="194.40" font-size="6.8" text-anchor="end" fill="#333" stroke="#333" stroke-width="0.12">5</text>
<line x1="408.25" y1="210.75" x2="411.25" y2="210.75" stroke="#1e1e1e" stroke-width="1.3"/>
<text x="406.25" y="213.15" font-size="6.8" text-anchor="end" fill="#333" stroke="#333" stroke-width="0.12">4</text>
<line x1="408.25" y1="230.00" x2="411.25" y2="230.00" stroke="#1e1e1e" stroke-width="1.3"/>
<text x="406.25" y="232.40" font-size="6.8" text-anchor="end" fill="#333" stroke="#333" stroke-width="0.12">3</text>
<line x1="408.25" y1="249.25" x2="411.25" y2="249.25" stroke="#1e1e1e" stroke-width="1.3"/>
<text x="406.25" y="251.65" font-size="6.8" text-anchor="end" fill="#333" stroke="#333" stroke-width="0.12">2</text>
<line x1="408.25" y1="268.25" x2="411.25" y2="268.25" stroke="#1e1e1e" stroke-width="1.3"/>
<text x="406.25" y="270.65" font-size="6.8" text-anchor="end" fill="#333" stroke="#333" stroke-width="0.12">1</text>
<line x1="408.25" y1="287.00" x2="411.25" y2="287.00" stroke="#1e1e1e" stroke-width="1.3"/>
<text x="406.25" y="289.40" font-size="6.8" text-anchor="end" fill="#333" stroke="#333" stroke-width="0.12">0</text>
<line x1="411.25" y1="287.20" x2="509.00" y2="287.20" stroke="#1e1e1e" stroke-width="1.4"/>
<line x1="439.50" y1="287.20" x2="439.50" y2="289.70" stroke="#1e1e1e" stroke-width="1.0"/>
<line x1="481.25" y1="287.20" x2="481.25" y2="289.70" stroke="#1e1e1e" stroke-width="1.0"/>
<line x1="439.50" y1="200.00" x2="481.25" y2="200.00" stroke="#6e6e6e" stroke-width="1.15"/>
<text x="460.38" y="200.90" font-size="7.5" text-anchor="middle" fill="#222" stroke="#222" stroke-width="0.12" font-weight="bold">**</text>
<text x="397.30" y="237.50" font-size="8.4" text-anchor="middle" fill="#333" stroke="#333" stroke-width="0.12" textLength="18.00" lengthAdjust="spacingAndGlyphs" transform="rotate(-90 397.30 237.50)">Score</text>
<line x1="439.50" y1="249.10" x2="439.50" y2="211.00" stroke="#888" stroke-width="1.0"/>
<line x1="425.75" y1="230.05" x2="453.00" y2="230.05" stroke="#222" stroke-width="1.2"/>
<line x1="481.25" y1="268.15" x2="481.25" y2="230.05" stroke="#888" stroke-width="1.0"/>
<line x1="467.50" y1="268.15" x2="495.00" y2="268.15" stroke="#222" stroke-width="1.2"/>
<circle cx="435.50" cy="211.00" r="2.5" fill="#2f8a4e" stroke="#1c5a30" stroke-width="0.5"/>
<circle cx="443.75" cy="211.00" r="2.5" fill="#2f8a4e" stroke="#1c5a30" stroke-width="0.5"/>
<circle cx="431.25" cy="230.05" r="2.5" fill="#2f8a4e" stroke="#1c5a30" stroke-width="0.5"/>
<circle cx="439.50" cy="230.05" r="2.5" fill="#2f8a4e" stroke="#1c5a30" stroke-width="0.5"/>
<circle cx="447.50" cy="230.05" r="2.5" fill="#2f8a4e" stroke="#1c5a30" stroke-width="0.5"/>
<circle cx="427.00" cy="249.10" r="2.5" fill="#2f8a4e" stroke="#1c5a30" stroke-width="0.5"/>
<circle cx="435.50" cy="249.10" r="2.5" fill="#2f8a4e" stroke="#1c5a30" stroke-width="0.5"/>
<circle cx="443.75" cy="249.10" r="2.5" fill="#2f8a4e" stroke="#1c5a30" stroke-width="0.5"/>
<circle cx="451.75" cy="249.10" r="2.5" fill="#2f8a4e" stroke="#1c5a30" stroke-width="0.5"/>
<circle cx="477.50" cy="230.05" r="2.5" fill="#23234f" stroke="#111133" stroke-width="0.5"/>
<circle cx="484.50" cy="230.05" r="2.5" fill="#23234f" stroke="#111133" stroke-width="0.5"/>
<circle cx="481.25" cy="249.10" r="2.5" fill="#23234f" stroke="#111133" stroke-width="0.5"/>
<circle cx="468.75" cy="268.15" r="2.5" fill="#23234f" stroke="#111133" stroke-width="0.5"/>
<circle cx="475.00" cy="268.15" r="2.5" fill="#23234f" stroke="#111133" stroke-width="0.5"/>
<circle cx="481.25" cy="268.15" r="2.5" fill="#23234f" stroke="#111133" stroke-width="0.5"/>
<circle cx="487.50" cy="268.15" r="2.5" fill="#23234f" stroke="#111133" stroke-width="0.5"/>
<circle cx="493.50" cy="268.15" r="2.5" fill="#23234f" stroke="#111133" stroke-width="0.5"/>
<circle cx="481.25" cy="287.20" r="2.5" fill="#23234f" stroke="#111133" stroke-width="0.5"/>
<text x="440.50" y="297.70" font-size="7.8" text-anchor="end" fill="#333" stroke="#333" stroke-width="0.12" textLength="26.50" lengthAdjust="spacingAndGlyphs" transform="rotate(-45 440.50 297.70)">m-IC-Pre</text>
<text x="482.25" y="297.70" font-size="7.8" text-anchor="end" fill="#333" stroke="#333" stroke-width="0.12" textLength="29.50" lengthAdjust="spacingAndGlyphs" transform="rotate(-45 482.25 297.70)">m-IC-Post</text>
<text x="0.20" y="348.70" font-size="11.6" text-anchor="start" fill="#111" stroke="#111" stroke-width="0.12" font-weight="bold">H</text>
<text x="57.50" y="362.00" font-size="8.2" text-anchor="start" fill="#333" stroke="#333" stroke-width="0.12" textLength="27.10" lengthAdjust="spacingAndGlyphs">sCD40L</text>
<line x1="45.60" y1="370.50" x2="45.60" y2="402.00" stroke="#1e1e1e" stroke-width="1.4"/>
<line x1="42.60" y1="402.00" x2="48.60" y2="402.00" stroke="#1e1e1e" stroke-width="1.0"/>
<line x1="42.60" y1="373.20" x2="45.60" y2="373.20" stroke="#1e1e1e" stroke-width="1.0"/>
<text x="38.80" y="375.60" font-size="6.8" text-anchor="end" fill="#333" stroke="#333" stroke-width="0.12" textLength="17.25" lengthAdjust="spacingAndGlyphs">10000</text>
<line x1="42.60" y1="401.70" x2="45.60" y2="401.70" stroke="#1e1e1e" stroke-width="1.0"/>
<text x="38.80" y="404.10" font-size="6.8" text-anchor="end" fill="#333" stroke="#333" stroke-width="0.12" textLength="13.80" lengthAdjust="spacingAndGlyphs">5000</text>
<line x1="45.60" y1="409.50" x2="45.60" y2="476.50" stroke="#1e1e1e" stroke-width="1.4"/>
<line x1="42.60" y1="409.50" x2="48.60" y2="409.50" stroke="#1e1e1e" stroke-width="1.0"/>
<line x1="42.60" y1="409.70" x2="45.60" y2="409.70" stroke="#1e1e1e" stroke-width="1.0"/>
<text x="38.80" y="412.10" font-size="6.8" text-anchor="end" fill="#333" stroke="#333" stroke-width="0.12" textLength="13.80" lengthAdjust="spacingAndGlyphs">4000</text>
<line x1="42.60" y1="426.50" x2="45.60" y2="426.50" stroke="#1e1e1e" stroke-width="1.0"/>
<text x="38.80" y="428.90" font-size="6.8" text-anchor="end" fill="#333" stroke="#333" stroke-width="0.12" textLength="13.80" lengthAdjust="spacingAndGlyphs">3000</text>
<line x1="42.60" y1="443.20" x2="45.60" y2="443.20" stroke="#1e1e1e" stroke-width="1.0"/>
<text x="38.80" y="445.60" font-size="6.8" text-anchor="end" fill="#333" stroke="#333" stroke-width="0.12" textLength="13.80" lengthAdjust="spacingAndGlyphs">2000</text>
<line x1="42.60" y1="460.10" x2="45.60" y2="460.10" stroke="#1e1e1e" stroke-width="1.0"/>
<text x="38.80" y="462.50" font-size="6.8" text-anchor="end" fill="#333" stroke="#333" stroke-width="0.12" textLength="13.80" lengthAdjust="spacingAndGlyphs">1000</text>
<line x1="42.60" y1="476.50" x2="45.60" y2="476.50" stroke="#1e1e1e" stroke-width="1.0"/>
<text x="38.80" y="478.90" font-size="6.8" text-anchor="end" fill="#333" stroke="#333" stroke-width="0.12">0</text>
<rect x="51.00" y="467.00" width="10.10" height="9.50" fill="#1e5a98" stroke="none" stroke-width="0"/>
<rect x="65.90" y="471.20" width="10.10" height="5.30" fill="#c8102e" stroke="none" stroke-width="0"/>
<rect x="80.80" y="465.30" width="10.20" height="11.20" fill="#3aaa35" stroke="none" stroke-width="0"/>
<line x1="55.80" y1="448.60" x2="55.80" y2="467.00" stroke="#707070" stroke-width="1.0"/>
<line x1="53.50" y1="448.60" x2="58.10" y2="448.60" stroke="#707070" stroke-width="1.0"/>
<line x1="70.80" y1="424.10" x2="70.80" y2="471.20" stroke="#707070" stroke-width="1.0"/>
<line x1="68.50" y1="424.10" x2="73.10" y2="424.10" stroke="#707070" stroke-width="1.0"/>
<line x1="86.20" y1="421.70" x2="86.20" y2="465.30" stroke="#707070" stroke-width="1.0"/>
<line x1="45.60" y1="476.50" x2="96.30" y2="476.50" stroke="#1e1e1e" stroke-width="1.4"/>
<line x1="55.80" y1="476.50" x2="55.80" y2="479.00" stroke="#1e1e1e" stroke-width="0.9"/>
<line x1="70.80" y1="476.50" x2="70.80" y2="479.00" stroke="#1e1e1e" stroke-width="0.9"/>
<line x1="86.20" y1="476.50" x2="86.20" y2="479.00" stroke="#1e1e1e" stroke-width="0.9"/>
<circle cx="54.80" cy="437.80" r="2.0" fill="#fff" stroke="#1a1a1a" stroke-width="0.8"/>
<circle cx="56.70" cy="436.30" r="2.0" fill="#fff" stroke="#1a1a1a" stroke-width="0.8"/>
<circle cx="55.70" cy="445.00" r="2.0" fill="#fff" stroke="#1a1a1a" stroke-width="0.8"/>
<circle cx="55.70" cy="457.50" r="2.0" fill="#fff" stroke="#1a1a1a" stroke-width="0.8"/>
<circle cx="55.70" cy="459.60" r="2.0" fill="#fff" stroke="#1a1a1a" stroke-width="0.8"/>
<circle cx="53.40" cy="475.00" r="2.0" fill="#fff" stroke="#1a1a1a" stroke-width="0.8"/>
<circle cx="57.40" cy="475.00" r="2.0" fill="#fff" stroke="#1a1a1a" stroke-width="0.8"/>
<circle cx="70.90" cy="381.60" r="2.0" fill="#fff" stroke="#1a1a1a" stroke-width="0.8"/>
<circle cx="70.90" cy="399.20" r="2.0" fill="#fff" stroke="#1a1a1a" stroke-width="0.8"/>
<circle cx="70.70" cy="462.90" r="2.0" fill="#fff" stroke="#1a1a1a" stroke-width="0.8"/>
<circle cx="71.80" cy="468.20" r="2.0" fill="#fff" stroke="#1a1a1a" stroke-width="0.8"/>
<circle cx="68.30" cy="470.60" r="2.0" fill="#fff" stroke="#1a1a1a" stroke-width="0.8"/>
<circle cx="74.20" cy="471.80" r="2.0" fill="#fff" stroke="#1a1a1a" stroke-width="0.8"/>
<circle cx="67.70" cy="475.00" r="2.0" fill="#fff" stroke="#1a1a1a" stroke-width="0.8"/>
<circle cx="72.40" cy="475.00" r="2.0" fill="#fff" stroke="#1a1a1a" stroke-width="0.8"/>
<circle cx="85.00" cy="414.00" r="2.0" fill="#fff" stroke="#1a1a1a" stroke-width="0.8"/>
<circle cx="87.40" cy="416.30" r="2.0" fill="#fff" stroke="#1a1a1a" stroke-width="0.8"/>
<circle cx="86.20" cy="421.70" r="2.0" fill="#fff" stroke="#1a1a1a" stroke-width="0.8"/>
<circle cx="86.20" cy="464.70" r="2.0" fill="#fff" stroke="#1a1a1a" stroke-width="0.8"/>
<circle cx="84.40" cy="466.50" r="2.0" fill="#fff" stroke="#1a1a1a" stroke-width="0.8"/>
<circle cx="88.00" cy="466.50" r="2.0" fill="#fff" stroke="#1a1a1a" stroke-width="0.8"/>
<circle cx="86.20" cy="469.40" r="2.0" fill="#fff" stroke="#1a1a1a" stroke-width="0.8"/>
<circle cx="83.20" cy="473.00" r="2.0" fill="#fff" stroke="#1a1a1a" stroke-width="0.8"/>
<circle cx="89.20" cy="471.80" r="2.0" fill="#fff" stroke="#1a1a1a" stroke-width="0.8"/>
<line x1="71.20" y1="378.30" x2="86.20" y2="378.30" stroke="#555" stroke-width="0.9"/>
<text x="78.60" y="375.80" font-size="6.6" text-anchor="middle" fill="#333" stroke="#333" stroke-width="0.12">ns</text>
<text x="17.00" y="422.00" font-size="8.6" text-anchor="middle" fill="#333" stroke="#333" stroke-width="0.12" textLength="44.00" lengthAdjust="spacingAndGlyphs" transform="rotate(-90 17.00 422.00)">Conc. (pg/mL)</text>
<text x="57.40" y="487.00" font-size="7.4" text-anchor="end" fill="#333" stroke="#333" stroke-width="0.12" textLength="8.50" lengthAdjust="spacingAndGlyphs" transform="rotate(-45 57.40 487.00)">HC</text>
<text x="72.40" y="487.00" font-size="7.4" text-anchor="end" fill="#333" stroke="#333" stroke-width="0.12" textLength="10.50" lengthAdjust="spacingAndGlyphs" transform="rotate(-45 72.40 487.00)">Pre</text>
<text x="87.80" y="487.00" font-size="7.4" text-anchor="end" fill="#333" stroke="#333" stroke-width="0.12" textLength="13.50" lengthAdjust="spacingAndGlyphs" transform="rotate(-45 87.80 487.00)">Post</text>
<text x="163.90" y="362.00" font-size="8.2" text-anchor="start" fill="#333" stroke="#333" stroke-width="0.12" textLength="16.50" lengthAdjust="spacingAndGlyphs">IL-21</text>
<line x1="143.00" y1="367.00" x2="143.00" y2="399.10" stroke="#1e1e1e" stroke-width="1.4"/>
<line x1="140.00" y1="399.10" x2="146.00" y2="399.10" stroke="#1e1e1e" stroke-width="1.0"/>
<line x1="140.00" y1="369.70" x2="143.00" y2="369.70" stroke="#1e1e1e" stroke-width="1.0"/>
<text x="136.20" y="372.10" font-size="6.8" text-anchor="end" fill="#333" stroke="#333" stroke-width="0.12" textLength="10.35" lengthAdjust="spacingAndGlyphs">100</text>
<line x1="140.00" y1="399.10" x2="143.00" y2="399.10" stroke="#1e1e1e" stroke-width="1.0"/>
<text x="136.20" y="401.50" font-size="6.8" text-anchor="end" fill="#333" stroke="#333" stroke-width="0.12">50</text>
<line x1="143.00" y1="407.30" x2="143.00" y2="476.20" stroke="#1e1e1e" stroke-width="1.4"/>
<line x1="140.00" y1="407.30" x2="146.00" y2="407.30" stroke="#1e1e1e" stroke-width="1.0"/>
<line x1="140.00" y1="407.30" x2="143.00" y2="407.30" stroke="#1e1e1e" stroke-width="1.0"/>
<text x="136.20" y="409.70" font-size="6.8" text-anchor="end" fill="#333" stroke="#333" stroke-width="0.12">50</text>
<line x1="140.00" y1="442.00" x2="143.00" y2="442.00" stroke="#1e1e1e" stroke-width="1.0"/>
<text x="136.20" y="444.40" font-size="6.8" text-anchor="end" fill="#333" stroke="#333" stroke-width="0.12">25</text>
<line x1="140.00" y1="476.20" x2="143.00" y2="476.20" stroke="#1e1e1e" stroke-width="1.0"/>
<text x="136.20" y="478.60" font-size="6.8" text-anchor="end" fill="#333" stroke="#333" stroke-width="0.12">0</text>
<rect x="149.00" y="467.60" width="11.30" height="8.60" fill="#1e5a98" stroke="none" stroke-width="0"/>
<rect x="166.30" y="470.30" width="11.90" height="5.90" fill="#c8102e" stroke="none" stroke-width="0"/>
<rect x="184.10" y="466.40" width="12.00" height="9.80" fill="#3aaa35" stroke="none" stroke-width="0"/>
<line x1="190.30" y1="422.10" x2="190.30" y2="466.40" stroke="#707070" stroke-width="1.0"/>
<line x1="188.00" y1="422.10" x2="192.60" y2="422.10" stroke="#707070" stroke-width="1.0"/>
<line x1="143.00" y1="476.20" x2="201.50" y2="476.20" stroke="#1e1e1e" stroke-width="1.4"/>
<line x1="154.50" y1="476.20" x2="154.50" y2="478.70" stroke="#1e1e1e" stroke-width="0.9"/>
<line x1="172.20" y1="476.20" x2="172.20" y2="478.70" stroke="#1e1e1e" stroke-width="0.9"/>
<line x1="190.30" y1="476.20" x2="190.30" y2="478.70" stroke="#1e1e1e" stroke-width="0.9"/>
<circle cx="154.60" cy="411.90" r="2.0" fill="#fff" stroke="#1a1a1a" stroke-width="0.8"/>
<circle cx="153.10" cy="456.30" r="2.0" fill="#fff" stroke="#1a1a1a" stroke-width="0.8"/>
<circle cx="155.90" cy="455.10" r="2.0" fill="#fff" stroke="#1a1a1a" stroke-width="0.8"/>
<circle cx="152.30" cy="462.20" r="2.0" fill="#fff" stroke="#1a1a1a" stroke-width="0.8"/>
<circle cx="150.80" cy="466.40" r="2.0" fill="#fff" stroke="#1a1a1a" stroke-width="0.8"/>
<circle cx="154.90" cy="467.60" r="2.0" fill="#fff" stroke="#1a1a1a" stroke-width="0.8"/>
<circle cx="157.90" cy="469.40" r="2.0" fill="#fff" stroke="#1a1a1a" stroke-width="0.8"/>
<circle cx="152.50" cy="470.00" r="2.0" fill="#fff" stroke="#1a1a1a" stroke-width="0.8"/>
<circle cx="154.90" cy="473.00" r="2.0" fill="#fff" stroke="#1a1a1a" stroke-width="0.8"/>
<circle cx="152.50" cy="476.30" r="2.0" fill="#fff" stroke="#1a1a1a" stroke-width="0.8"/>
<circle cx="168.60" cy="461.00" r="2.0" fill="#fff" stroke="#1a1a1a" stroke-width="0.8"/>
<circle cx="176.40" cy="461.00" r="2.0" fill="#fff" stroke="#1a1a1a" stroke-width="0.8"/>
<circle cx="172.20" cy="463.40" r="2.0" fill="#fff" stroke="#1a1a1a" stroke-width="0.8"/>
<circle cx="172.20" cy="467.00" r="2.0" fill="#fff" stroke="#1a1a1a" stroke-width="0.8"/>
<circle cx="168.00" cy="470.30" r="2.0" fill="#fff" stroke="#1a1a1a" stroke-width="0.8"/>
<circle cx="176.40" cy="470.30" r="2.0" fill="#fff" stroke="#1a1a1a" stroke-width="0.8"/>
<circle cx="168.60" cy="474.80" r="2.0" fill="#fff" stroke="#1a1a1a" stroke-width="0.8"/>
<circle cx="172.80" cy="474.20" r="2.0" fill="#fff" stroke="#1a1a1a" stroke-width="0.8"/>
<circle cx="176.40" cy="474.80" r="2.0" fill="#fff" stroke="#1a1a1a" stroke-width="0.8"/>
<circle cx="190.00" cy="378.60" r="2.0" fill="#fff" stroke="#1a1a1a" stroke-width="0.8"/>
<circle cx="190.30" cy="409.50" r="2.0" fill="#fff" stroke="#1a1a1a" stroke-width="0.8"/>
<circle cx="190.30" cy="459.30" r="2.0" fill="#fff" stroke="#1a1a1a" stroke-width="0.8"/>
<circle cx="187.70" cy="466.40" r="2.0" fill="#fff" stroke="#1a1a1a" stroke-width="0.8"/>
<circle cx="191.90" cy="466.40" r="2.0" fill="#fff" stroke="#1a1a1a" stroke-width="0.8"/>
<circle cx="185.90" cy="470.00" r="2.0" fill="#fff" stroke="#1a1a1a" stroke-width="0.8"/>
<circle cx="194.30" cy="470.00" r="2.0" fill="#fff" stroke="#1a1a1a" stroke-width="0.8"/>
<circle cx="186.50" cy="473.60" r="2.0" fill="#fff" stroke="#1a1a1a" stroke-width="0.8"/>
<circle cx="190.50" cy="473.60" r="2.0" fill="#fff" stroke="#1a1a1a" stroke-width="0.8"/>
<circle cx="194.30" cy="473.60" r="2.0" fill="#fff" stroke="#1a1a1a" stroke-width="0.8"/>
<line x1="172.60" y1="375.40" x2="187.80" y2="375.40" stroke="#555" stroke-width="0.9"/>
<text x="180.40" y="375.20" font-size="7.0" text-anchor="middle" fill="#222" stroke="#222" stroke-width="0.12" font-weight="bold">*</text>
<text x="121.00" y="422.00" font-size="8.6" text-anchor="middle" fill="#333" stroke="#333" stroke-width="0.12" textLength="41.00" lengthAdjust="spacingAndGlyphs" transform="rotate(-90 121.00 422.00)">Conc. (pg/mL)</text>
<text x="156.10" y="486.70" font-size="7.4" text-anchor="end" fill="#333" stroke="#333" stroke-width="0.12" textLength="8.50" lengthAdjust="spacingAndGlyphs" transform="rotate(-45 156.10 486.70)">HC</text>
<text x="173.80" y="486.70" font-size="7.4" text-anchor="end" fill="#333" stroke="#333" stroke-width="0.12" textLength="10.50" lengthAdjust="spacingAndGlyphs" transform="rotate(-45 173.80 486.70)">Pre</text>
<text x="191.90" y="486.70" font-size="7.4" text-anchor="end" fill="#333" stroke="#333" stroke-width="0.12" textLength="13.50" lengthAdjust="spacingAndGlyphs" transform="rotate(-45 191.90 486.70)">Post</text>
<text x="268.00" y="362.00" font-size="8.2" text-anchor="start" fill="#333" stroke="#333" stroke-width="0.12" textLength="18.40" lengthAdjust="spacingAndGlyphs">IFN-&#947;</text>
<line x1="246.70" y1="369.50" x2="246.70" y2="401.40" stroke="#1e1e1e" stroke-width="1.4"/>
<line x1="243.70" y1="401.40" x2="249.70" y2="401.40" stroke="#1e1e1e" stroke-width="1.0"/>
<line x1="243.70" y1="371.80" x2="246.70" y2="371.80" stroke="#1e1e1e" stroke-width="1.0"/>
<text x="239.90" y="374.20" font-size="6.8" text-anchor="end" fill="#333" stroke="#333" stroke-width="0.12">16</text>
<line x1="243.70" y1="389.10" x2="246.70" y2="389.10" stroke="#1e1e1e" stroke-width="1.0"/>
<text x="239.90" y="391.50" font-size="6.8" text-anchor="end" fill="#333" stroke="#333" stroke-width="0.12">8</text>
<line x1="246.70" y1="409.80" x2="246.70" y2="477.10" stroke="#1e1e1e" stroke-width="1.4"/>
<line x1="243.70" y1="409.80" x2="249.70" y2="409.80" stroke="#1e1e1e" stroke-width="1.0"/>
<line x1="243.70" y1="409.80" x2="246.70" y2="409.80" stroke="#1e1e1e" stroke-width="1.0"/>
<text x="239.90" y="412.20" font-size="6.8" text-anchor="end" fill="#333" stroke="#333" stroke-width="0.12" textLength="10.35" lengthAdjust="spacingAndGlyphs">2.0</text>
<line x1="243.70" y1="426.70" x2="246.70" y2="426.70" stroke="#1e1e1e" stroke-width="1.0"/>
<text x="239.90" y="429.10" font-size="6.8" text-anchor="end" fill="#333" stroke="#333" stroke-width="0.12" textLength="10.35" lengthAdjust="spacingAndGlyphs">1.5</text>
<line x1="243.70" y1="443.20" x2="246.70" y2="443.20" stroke="#1e1e1e" stroke-width="1.0"/>
<text x="239.90" y="445.60" font-size="6.8" text-anchor="end" fill="#333" stroke="#333" stroke-width="0.12" textLength="10.35" lengthAdjust="spacingAndGlyphs">1.0</text>
<line x1="243.70" y1="460.50" x2="246.70" y2="460.50" stroke="#1e1e1e" stroke-width="1.0"/>
<text x="239.90" y="462.90" font-size="6.8" text-anchor="end" fill="#333" stroke="#333" stroke-width="0.12" textLength="10.35" lengthAdjust="spacingAndGlyphs">0.5</text>
<line x1="243.70" y1="477.10" x2="246.70" y2="477.10" stroke="#1e1e1e" stroke-width="1.0"/>
<text x="239.90" y="479.50" font-size="6.8" text-anchor="end" fill="#333" stroke="#333" stroke-width="0.12" textLength="10.35" lengthAdjust="spacingAndGlyphs">0.0</text>
<rect x="252.50" y="476.20" width="11.50" height="0.90" fill="#1e5a98" stroke="none" stroke-width="0"/>
<rect x="270.20" y="453.20" width="11.30" height="23.90" fill="#c8102e" stroke="none" stroke-width="0"/>
<rect x="288.10" y="457.20" width="11.90" height="19.90" fill="#3aaa35" stroke="none" stroke-width="0"/>
<line x1="258.30" y1="464.40" x2="258.30" y2="476.20" stroke="#707070" stroke-width="1.0"/>
<line x1="276.20" y1="445.60" x2="276.20" y2="453.20" stroke="#707070" stroke-width="1.0"/>
<line x1="273.90" y1="445.60" x2="278.50" y2="445.60" stroke="#707070" stroke-width="1.0"/>
<line x1="294.00" y1="430.20" x2="294.00" y2="457.20" stroke="#707070" stroke-width="1.0"/>
<line x1="246.70" y1="477.10" x2="304.40" y2="477.10" stroke="#1e1e1e" stroke-width="1.4"/>
<line x1="258.30" y1="477.10" x2="258.30" y2="479.60" stroke="#1e1e1e" stroke-width="0.9"/>
<line x1="275.90" y1="477.10" x2="275.90" y2="479.60" stroke="#1e1e1e" stroke-width="0.9"/>
<line x1="294.00" y1="477.10" x2="294.00" y2="479.60" stroke="#1e1e1e" stroke-width="0.9"/>
<circle cx="258.50" cy="382.20" r="2.0" fill="#fff" stroke="#1a1a1a" stroke-width="0.8"/>
<circle cx="258.50" cy="389.60" r="2.0" fill="#fff" stroke="#1a1a1a" stroke-width="0.8"/>
<circle cx="294.30" cy="389.60" r="2.0" fill="#fff" stroke="#1a1a1a" stroke-width="0.8"/>
<circle cx="258.10" cy="464.40" r="2.0" fill="#fff" stroke="#1a1a1a" stroke-width="0.8"/>
<circle cx="256.40" cy="471.90" r="2.0" fill="#fff" stroke="#1a1a1a" stroke-width="0.8"/>
<circle cx="259.80" cy="471.90" r="2.0" fill="#fff" stroke="#1a1a1a" stroke-width="0.8"/>
<circle cx="254.70" cy="474.20" r="2.0" fill="#fff" stroke="#1a1a1a" stroke-width="0.8"/>
<circle cx="262.20" cy="474.20" r="2.0" fill="#fff" stroke="#1a1a1a" stroke-width="0.8"/>
<circle cx="257.50" cy="475.40" r="2.0" fill="#fff" stroke="#1a1a1a" stroke-width="0.8"/>
<circle cx="254.10" cy="477.10" r="2.0" fill="#fff" stroke="#1a1a1a" stroke-width="0.8"/>
<circle cx="261.00" cy="477.10" r="2.0" fill="#fff" stroke="#1a1a1a" stroke-width="0.8"/>
<circle cx="276.20" cy="436.50" r="2.0" fill="#fff" stroke="#1a1a1a" stroke-width="0.8"/>
<circle cx="280.00" cy="445.60" r="2.0" fill="#fff" stroke="#1a1a1a" stroke-width="0.8"/>
<circle cx="272.30" cy="449.40" r="2.0" fill="#fff" stroke="#1a1a1a" stroke-width="0.8"/>
<circle cx="280.00" cy="453.20" r="2.0" fill="#fff" stroke="#1a1a1a" stroke-width="0.8"/>
<circle cx="276.20" cy="464.40" r="2.0" fill="#fff" stroke="#1a1a1a" stroke-width="0.8"/>
<circle cx="272.50" cy="477.10" r="2.0" fill="#fff" stroke="#1a1a1a" stroke-width="0.8"/>
<circle cx="280.00" cy="477.10" r="2.0" fill="#fff" stroke="#1a1a1a" stroke-width="0.8"/>
<circle cx="293.90" cy="430.20" r="2.0" fill="#fff" stroke="#1a1a1a" stroke-width="0.8"/>
<circle cx="297.70" cy="453.50" r="2.0" fill="#fff" stroke="#1a1a1a" stroke-width="0.8"/>
<circle cx="290.20" cy="456.90" r="2.0" fill="#fff" stroke="#1a1a1a" stroke-width="0.8"/>
<circle cx="290.40" cy="471.30" r="2.0" fill="#fff" stroke="#1a1a1a" stroke-width="0.8"/>
<circle cx="297.90" cy="473.30" r="2.0" fill="#fff" stroke="#1a1a1a" stroke-width="0.8"/>
<circle cx="290.40" cy="477.50" r="2.0" fill="#fff" stroke="#1a1a1a" stroke-width="0.8"/>
<line x1="276.30" y1="383.20" x2="293.40" y2="383.20" stroke="#555" stroke-width="0.9"/>
<text x="285.00" y="380.60" font-size="6.6" text-anchor="middle" fill="#333" stroke="#333" stroke-width="0.12">ns</text>
<text x="225.80" y="423.50" font-size="8.6" text-anchor="middle" fill="#333" stroke="#333" stroke-width="0.12" textLength="44.50" lengthAdjust="spacingAndGlyphs" transform="rotate(-90 225.80 423.50)">Conc. (pg/mL)</text>
<text x="259.90" y="487.60" font-size="7.4" text-anchor="end" fill="#333" stroke="#333" stroke-width="0.12" textLength="8.50" lengthAdjust="spacingAndGlyphs" transform="rotate(-45 259.90 487.60)">HC</text>
<text x="277.50" y="487.60" font-size="7.4" text-anchor="end" fill="#333" stroke="#333" stroke-width="0.12" textLength="10.50" lengthAdjust="spacingAndGlyphs" transform="rotate(-45 277.50 487.60)">Pre</text>
<text x="295.60" y="487.60" font-size="7.4" text-anchor="end" fill="#333" stroke="#333" stroke-width="0.12" textLength="13.50" lengthAdjust="spacingAndGlyphs" transform="rotate(-45 295.60 487.60)">Post</text>
<text x="374.80" y="362.00" font-size="8.2" text-anchor="start" fill="#333" stroke="#333" stroke-width="0.12" textLength="23.30" lengthAdjust="spacingAndGlyphs">CXCL9</text>
<line x1="358.30" y1="376.00" x2="358.30" y2="405.60" stroke="#1e1e1e" stroke-width="1.4"/>
<line x1="355.30" y1="405.60" x2="361.30" y2="405.60" stroke="#1e1e1e" stroke-width="1.0"/>
<line x1="355.30" y1="378.10" x2="358.30" y2="378.10" stroke="#1e1e1e" stroke-width="1.0"/>
<text x="351.50" y="380.50" font-size="6.8" text-anchor="end" fill="#333" stroke="#333" stroke-width="0.12" textLength="17.25" lengthAdjust="spacingAndGlyphs">80000</text>
<line x1="355.30" y1="394.40" x2="358.30" y2="394.40" stroke="#1e1e1e" stroke-width="1.0"/>
<text x="351.50" y="396.80" font-size="6.8" text-anchor="end" fill="#333" stroke="#333" stroke-width="0.12" textLength="17.25" lengthAdjust="spacingAndGlyphs">40000</text>
<line x1="358.30" y1="413.30" x2="358.30" y2="476.30" stroke="#1e1e1e" stroke-width="1.4"/>
<line x1="355.30" y1="413.30" x2="361.30" y2="413.30" stroke="#1e1e1e" stroke-width="1.0"/>
<line x1="355.30" y1="413.40" x2="358.30" y2="413.40" stroke="#1e1e1e" stroke-width="1.0"/>
<text x="351.50" y="415.80" font-size="6.8" text-anchor="end" fill="#333" stroke="#333" stroke-width="0.12" textLength="17.25" lengthAdjust="spacingAndGlyphs">10000</text>
<line x1="355.30" y1="425.70" x2="358.30" y2="425.70" stroke="#1e1e1e" stroke-width="1.0"/>
<text x="351.50" y="428.10" font-size="6.8" text-anchor="end" fill="#333" stroke="#333" stroke-width="0.12" textLength="13.80" lengthAdjust="spacingAndGlyphs">8000</text>
<line x1="355.30" y1="438.40" x2="358.30" y2="438.40" stroke="#1e1e1e" stroke-width="1.0"/>
<text x="351.50" y="440.80" font-size="6.8" text-anchor="end" fill="#333" stroke="#333" stroke-width="0.12" textLength="13.80" lengthAdjust="spacingAndGlyphs">6000</text>
<line x1="355.30" y1="450.60" x2="358.30" y2="450.60" stroke="#1e1e1e" stroke-width="1.0"/>
<text x="351.50" y="453.00" font-size="6.8" text-anchor="end" fill="#333" stroke="#333" stroke-width="0.12" textLength="13.80" lengthAdjust="spacingAndGlyphs">4000</text>
<line x1="355.30" y1="463.30" x2="358.30" y2="463.30" stroke="#1e1e1e" stroke-width="1.0"/>
<text x="351.50" y="465.70" font-size="6.8" text-anchor="end" fill="#333" stroke="#333" stroke-width="0.12" textLength="13.80" lengthAdjust="spacingAndGlyphs">2000</text>
<line x1="355.30" y1="476.30" x2="358.30" y2="476.30" stroke="#1e1e1e" stroke-width="1.0"/>
<text x="351.50" y="478.70" font-size="6.8" text-anchor="end" fill="#333" stroke="#333" stroke-width="0.12">0</text>
<rect x="364.60" y="469.40" width="11.00" height="6.90" fill="#1a3b66" stroke="none" stroke-width="0"/>
<rect x="381.30" y="440.20" width="11.30" height="36.10" fill="#c8102e" stroke="none" stroke-width="0"/>
<rect x="398.50" y="457.50" width="11.00" height="18.80" fill="#3aaa35" stroke="none" stroke-width="0"/>
<line x1="386.60" y1="424.70" x2="386.60" y2="440.20" stroke="#707070" stroke-width="1.0"/>
<line x1="384.30" y1="424.70" x2="388.90" y2="424.70" stroke="#707070" stroke-width="1.0"/>
<line x1="403.90" y1="449.70" x2="403.90" y2="457.50" stroke="#707070" stroke-width="1.0"/>
<line x1="401.60" y1="449.70" x2="406.20" y2="449.70" stroke="#707070" stroke-width="1.0"/>
<line x1="358.30" y1="476.30" x2="415.00" y2="476.30" stroke="#1e1e1e" stroke-width="1.4"/>
<line x1="369.90" y1="476.30" x2="369.90" y2="478.80" stroke="#1e1e1e" stroke-width="0.9"/>
<line x1="386.60" y1="476.30" x2="386.60" y2="478.80" stroke="#1e1e1e" stroke-width="0.9"/>
<line x1="403.90" y1="476.30" x2="403.90" y2="478.80" stroke="#1e1e1e" stroke-width="0.9"/>
<circle cx="387.10" cy="384.50" r="2.0" fill="#fff" stroke="#1a1a1a" stroke-width="0.8"/>
<circle cx="404.00" cy="402.20" r="2.0" fill="#fff" stroke="#1a1a1a" stroke-width="0.8"/>
<circle cx="368.50" cy="458.10" r="2.0" fill="#fff" stroke="#1a1a1a" stroke-width="0.8"/>
<circle cx="371.40" cy="458.10" r="2.0" fill="#fff" stroke="#1a1a1a" stroke-width="0.8"/>
<circle cx="369.90" cy="464.00" r="2.0" fill="#fff" stroke="#1a1a1a" stroke-width="0.8"/>
<circle cx="369.90" cy="467.60" r="2.0" fill="#fff" stroke="#1a1a1a" stroke-width="0.8"/>
<circle cx="367.00" cy="471.80" r="2.0" fill="#fff" stroke="#1a1a1a" stroke-width="0.8"/>
<circle cx="372.10" cy="471.80" r="2.0" fill="#fff" stroke="#1a1a1a" stroke-width="0.8"/>
<circle cx="369.50" cy="474.50" r="2.0" fill="#fff" stroke="#1a1a1a" stroke-width="0.8"/>
<circle cx="386.60" cy="414.50" r="2.0" fill="#fff" stroke="#1a1a1a" stroke-width="0.8"/>
<circle cx="386.60" cy="434.80" r="2.0" fill="#fff" stroke="#1a1a1a" stroke-width="0.8"/>
<circle cx="383.00" cy="440.80" r="2.0" fill="#fff" stroke="#1a1a1a" stroke-width="0.8"/>
<circle cx="390.40" cy="439.60" r="2.0" fill="#fff" stroke="#1a1a1a" stroke-width="0.8"/>
<circle cx="386.60" cy="448.50" r="2.0" fill="#fff" stroke="#1a1a1a" stroke-width="0.8"/>
<circle cx="386.60" cy="455.10" r="2.0" fill="#fff" stroke="#1a1a1a" stroke-width="0.8"/>
<circle cx="383.00" cy="468.00" r="2.0" fill="#fff" stroke="#1a1a1a" stroke-width="0.8"/>
<circle cx="390.40" cy="468.00" r="2.0" fill="#fff" stroke="#1a1a1a" stroke-width="0.8"/>
<circle cx="403.90" cy="445.50" r="2.0" fill="#fff" stroke="#1a1a1a" stroke-width="0.8"/>
<circle cx="400.30" cy="454.50" r="2.0" fill="#fff" stroke="#1a1a1a" stroke-width="0.8"/>
<circle cx="407.50" cy="453.30" r="2.0" fill="#fff" stroke="#1a1a1a" stroke-width="0.8"/>
<circle cx="403.90" cy="459.30" r="2.0" fill="#fff" stroke="#1a1a1a" stroke-width="0.8"/>
<circle cx="407.50" cy="458.70" r="2.0" fill="#fff" stroke="#1a1a1a" stroke-width="0.8"/>
<circle cx="403.90" cy="466.00" r="2.0" fill="#fff" stroke="#1a1a1a" stroke-width="0.8"/>
<circle cx="407.80" cy="466.40" r="2.0" fill="#fff" stroke="#1a1a1a" stroke-width="0.8"/>
<circle cx="400.00" cy="468.80" r="2.0" fill="#fff" stroke="#1a1a1a" stroke-width="0.8"/>
<line x1="389.20" y1="380.70" x2="406.10" y2="380.70" stroke="#555" stroke-width="0.9"/>
<text x="397.00" y="380.40" font-size="7.0" text-anchor="middle" fill="#222" stroke="#222" stroke-width="0.12" font-weight="bold">*</text>
<text x="331.00" y="426.00" font-size="8.6" text-anchor="middle" fill="#333" stroke="#333" stroke-width="0.12" textLength="43.50" lengthAdjust="spacingAndGlyphs" transform="rotate(-90 331.00 426.00)">Conc. (pg/mL)</text>
<text x="371.50" y="486.80" font-size="7.4" text-anchor="end" fill="#333" stroke="#333" stroke-width="0.12" textLength="8.50" lengthAdjust="spacingAndGlyphs" transform="rotate(-45 371.50 486.80)">HC</text>
<text x="388.20" y="486.80" font-size="7.4" text-anchor="end" fill="#333" stroke="#333" stroke-width="0.12" textLength="10.50" lengthAdjust="spacingAndGlyphs" transform="rotate(-45 388.20 486.80)">Pre</text>
<text x="405.50" y="486.80" font-size="7.4" text-anchor="end" fill="#333" stroke="#333" stroke-width="0.12" textLength="13.50" lengthAdjust="spacingAndGlyphs" transform="rotate(-45 405.50 486.80)">Post</text>
<text x="477.30" y="362.00" font-size="8.2" text-anchor="start" fill="#333" stroke="#333" stroke-width="0.12" textLength="26.80" lengthAdjust="spacingAndGlyphs">CXCL10</text>
<line x1="460.80" y1="368.00" x2="460.80" y2="471.50" stroke="#1e1e1e" stroke-width="1.4"/>
<line x1="457.80" y1="370.10" x2="460.80" y2="370.10" stroke="#1e1e1e" stroke-width="1.0"/>
<text x="454.00" y="372.50" font-size="6.8" text-anchor="end" fill="#333" stroke="#333" stroke-width="0.12" textLength="10.35" lengthAdjust="spacingAndGlyphs">800</text>
<line x1="457.80" y1="395.30" x2="460.80" y2="395.30" stroke="#1e1e1e" stroke-width="1.0"/>
<text x="454.00" y="397.70" font-size="6.8" text-anchor="end" fill="#333" stroke="#333" stroke-width="0.12" textLength="10.35" lengthAdjust="spacingAndGlyphs">600</text>
<line x1="457.80" y1="420.60" x2="460.80" y2="420.60" stroke="#1e1e1e" stroke-width="1.0"/>
<text x="454.00" y="423.00" font-size="6.8" text-anchor="end" fill="#333" stroke="#333" stroke-width="0.12" textLength="10.35" lengthAdjust="spacingAndGlyphs">400</text>
<line x1="457.80" y1="446.00" x2="460.80" y2="446.00" stroke="#1e1e1e" stroke-width="1.0"/>
<text x="454.00" y="448.40" font-size="6.8" text-anchor="end" fill="#333" stroke="#333" stroke-width="0.12" textLength="10.35" lengthAdjust="spacingAndGlyphs">200</text>
<line x1="457.80" y1="471.40" x2="460.80" y2="471.40" stroke="#1e1e1e" stroke-width="1.0"/>
<text x="454.00" y="473.80" font-size="6.8" text-anchor="end" fill="#333" stroke="#333" stroke-width="0.12">0</text>
<rect x="467.20" y="457.00" width="11.60" height="14.50" fill="#1a3b66" stroke="none" stroke-width="0"/>
<rect x="485.20" y="439.30" width="10.70" height="32.20" fill="#c8102e" stroke="none" stroke-width="0"/>
<rect x="502.30" y="452.40" width="11.20" height="19.10" fill="#3aaa35" stroke="none" stroke-width="0"/>
<line x1="473.10" y1="440.40" x2="473.10" y2="457.00" stroke="#707070" stroke-width="1.0"/>
<line x1="470.80" y1="440.40" x2="475.40" y2="440.40" stroke="#707070" stroke-width="1.0"/>
<line x1="490.60" y1="403.40" x2="490.60" y2="439.30" stroke="#707070" stroke-width="1.0"/>
<line x1="488.30" y1="403.40" x2="492.90" y2="403.40" stroke="#707070" stroke-width="1.0"/>
<line x1="460.80" y1="471.50" x2="520.00" y2="471.50" stroke="#1e1e1e" stroke-width="1.4"/>
<line x1="473.10" y1="471.50" x2="473.10" y2="474.00" stroke="#1e1e1e" stroke-width="0.9"/>
<line x1="490.60" y1="471.50" x2="490.60" y2="474.00" stroke="#1e1e1e" stroke-width="0.9"/>
<line x1="507.90" y1="471.50" x2="507.90" y2="474.00" stroke="#1e1e1e" stroke-width="0.9"/>
<circle cx="470.40" cy="435.60" r="2.0" fill="#fff" stroke="#1a1a1a" stroke-width="0.8"/>
<circle cx="473.10" cy="434.80" r="2.0" fill="#fff" stroke="#1a1a1a" stroke-width="0.8"/>
<circle cx="476.00" cy="433.70" r="2.0" fill="#fff" stroke="#1a1a1a" stroke-width="0.8"/>
<circle cx="469.90" cy="453.50" r="2.0" fill="#fff" stroke="#1a1a1a" stroke-width="0.8"/>
<circle cx="472.00" cy="457.70" r="2.0" fill="#fff" stroke="#1a1a1a" stroke-width="0.8"/>
<circle cx="476.80" cy="457.70" r="2.0" fill="#fff" stroke="#1a1a1a" stroke-width="0.8"/>
<circle cx="469.60" cy="463.60" r="2.0" fill="#fff" stroke="#1a1a1a" stroke-width="0.8"/>
<circle cx="473.60" cy="462.40" r="2.0" fill="#fff" stroke="#1a1a1a" stroke-width="0.8"/>
<circle cx="476.80" cy="465.60" r="2.0" fill="#fff" stroke="#1a1a1a" stroke-width="0.8"/>
<circle cx="469.60" cy="469.10" r="2.0" fill="#fff" stroke="#1a1a1a" stroke-width="0.8"/>
<circle cx="474.40" cy="467.50" r="2.0" fill="#fff" stroke="#1a1a1a" stroke-width="0.8"/>
<circle cx="490.60" cy="391.00" r="2.0" fill="#fff" stroke="#1a1a1a" stroke-width="0.8"/>
<circle cx="490.60" cy="400.50" r="2.0" fill="#fff" stroke="#1a1a1a" stroke-width="0.8"/>
<circle cx="490.60" cy="413.00" r="2.0" fill="#fff" stroke="#1a1a1a" stroke-width="0.8"/>
<circle cx="490.60" cy="432.10" r="2.0" fill="#fff" stroke="#1a1a1a" stroke-width="0.8"/>
<circle cx="486.30" cy="445.70" r="2.0" fill="#fff" stroke="#1a1a1a" stroke-width="0.8"/>
<circle cx="490.60" cy="446.80" r="2.0" fill="#fff" stroke="#1a1a1a" stroke-width="0.8"/>
<circle cx="494.30" cy="445.70" r="2.0" fill="#fff" stroke="#1a1a1a" stroke-width="0.8"/>
<circle cx="490.60" cy="454.80" r="2.0" fill="#fff" stroke="#1a1a1a" stroke-width="0.8"/>
<circle cx="507.90" cy="408.50" r="2.0" fill="#fff" stroke="#1a1a1a" stroke-width="0.8"/>
<circle cx="506.60" cy="450.00" r="2.0" fill="#fff" stroke="#1a1a1a" stroke-width="0.8"/>
<circle cx="504.70" cy="454.00" r="2.0" fill="#fff" stroke="#1a1a1a" stroke-width="0.8"/>
<circle cx="511.10" cy="452.70" r="2.0" fill="#fff" stroke="#1a1a1a" stroke-width="0.8"/>
<circle cx="506.30" cy="458.00" r="2.0" fill="#fff" stroke="#1a1a1a" stroke-width="0.8"/>
<circle cx="509.10" cy="463.60" r="2.0" fill="#fff" stroke="#1a1a1a" stroke-width="0.8"/>
<circle cx="506.60" cy="467.50" r="2.0" fill="#fff" stroke="#1a1a1a" stroke-width="0.8"/>
<line x1="490.30" y1="381.40" x2="510.30" y2="381.40" stroke="#555" stroke-width="0.9"/>
<text x="500.70" y="380.90" font-size="7.0" text-anchor="middle" fill="#222" stroke="#222" stroke-width="0.12" font-weight="bold">**</text>
<text x="439.50" y="417.70" font-size="8.6" text-anchor="middle" fill="#333" stroke="#333" stroke-width="0.12" textLength="46.50" lengthAdjust="spacingAndGlyphs" transform="rotate(-90 439.50 417.70)">Conc. (pg/mL)</text>
<text x="474.70" y="482.00" font-size="7.4" text-anchor="end" fill="#333" stroke="#333" stroke-width="0.12" textLength="8.50" lengthAdjust="spacingAndGlyphs" transform="rotate(-45 474.70 482.00)">HC</text>
<text x="492.20" y="482.00" font-size="7.4" text-anchor="end" fill="#333" stroke="#333" stroke-width="0.12" textLength="10.50" lengthAdjust="spacingAndGlyphs" transform="rotate(-45 492.20 482.00)">Pre</text>
<text x="509.50" y="482.00" font-size="7.4" text-anchor="end" fill="#333" stroke="#333" stroke-width="0.12" textLength="13.50" lengthAdjust="spacingAndGlyphs" transform="rotate(-45 509.50 482.00)">Post</text>
<text x="56.00" y="517.30" font-size="8.2" text-anchor="start" fill="#333" stroke="#333" stroke-width="0.12" textLength="30.30" lengthAdjust="spacingAndGlyphs">IL-12p40</text>
<line x1="44.80" y1="529.00" x2="44.80" y2="555.30" stroke="#1e1e1e" stroke-width="1.4"/>
<line x1="41.80" y1="555.30" x2="47.80" y2="555.30" stroke="#1e1e1e" stroke-width="1.0"/>
<line x1="41.80" y1="531.90" x2="44.80" y2="531.90" stroke="#1e1e1e" stroke-width="1.0"/>
<text x="38.00" y="534.30" font-size="6.8" text-anchor="end" fill="#333" stroke="#333" stroke-width="0.12" textLength="17.25" lengthAdjust="spacingAndGlyphs">30000</text>
<line x1="41.80" y1="543.70" x2="44.80" y2="543.70" stroke="#1e1e1e" stroke-width="1.0"/>
<text x="38.00" y="546.10" font-size="6.8" text-anchor="end" fill="#333" stroke="#333" stroke-width="0.12" textLength="17.25" lengthAdjust="spacingAndGlyphs">25000</text>
<line x1="41.80" y1="555.30" x2="44.80" y2="555.30" stroke="#1e1e1e" stroke-width="1.0"/>
<text x="38.00" y="557.70" font-size="6.8" text-anchor="end" fill="#333" stroke="#333" stroke-width="0.12" textLength="17.25" lengthAdjust="spacingAndGlyphs">20000</text>
<line x1="44.80" y1="562.50" x2="44.80" y2="618.60" stroke="#1e1e1e" stroke-width="1.4"/>
<line x1="41.80" y1="562.50" x2="47.80" y2="562.50" stroke="#1e1e1e" stroke-width="1.0"/>
<line x1="41.80" y1="562.30" x2="44.80" y2="562.30" stroke="#1e1e1e" stroke-width="1.0"/>
<text x="38.00" y="564.70" font-size="6.8" text-anchor="end" fill="#333" stroke="#333" stroke-width="0.12" textLength="10.35" lengthAdjust="spacingAndGlyphs">300</text>
<line x1="41.80" y1="581.30" x2="44.80" y2="581.30" stroke="#1e1e1e" stroke-width="1.0"/>
<text x="38.00" y="583.70" font-size="6.8" text-anchor="end" fill="#333" stroke="#333" stroke-width="0.12" textLength="10.35" lengthAdjust="spacingAndGlyphs">200</text>
<line x1="41.80" y1="600.10" x2="44.80" y2="600.10" stroke="#1e1e1e" stroke-width="1.0"/>
<text x="38.00" y="602.50" font-size="6.8" text-anchor="end" fill="#333" stroke="#333" stroke-width="0.12" textLength="10.35" lengthAdjust="spacingAndGlyphs">100</text>
<line x1="41.80" y1="618.50" x2="44.80" y2="618.50" stroke="#1e1e1e" stroke-width="1.0"/>
<text x="38.00" y="620.90" font-size="6.8" text-anchor="end" fill="#333" stroke="#333" stroke-width="0.12">0</text>
<rect x="50.20" y="606.70" width="10.20" height="11.90" fill="#1a3b66" stroke="none" stroke-width="0"/>
<rect x="66.10" y="587.80" width="9.90" height="30.80" fill="#c8102e" stroke="none" stroke-width="0"/>
<rect x="81.20" y="599.20" width="9.90" height="19.40" fill="#3aaa35" stroke="none" stroke-width="0"/>
<line x1="70.90" y1="581.90" x2="70.90" y2="587.80" stroke="#707070" stroke-width="1.0"/>
<line x1="86.00" y1="585.70" x2="86.00" y2="599.20" stroke="#707070" stroke-width="1.0"/>
<line x1="83.70" y1="585.70" x2="88.30" y2="585.70" stroke="#707070" stroke-width="1.0"/>
<line x1="44.80" y1="618.60" x2="96.30" y2="618.60" stroke="#1e1e1e" stroke-width="1.4"/>
<line x1="55.30" y1="618.60" x2="55.30" y2="621.10" stroke="#1e1e1e" stroke-width="0.9"/>
<line x1="70.90" y1="618.60" x2="70.90" y2="621.10" stroke="#1e1e1e" stroke-width="0.9"/>
<line x1="86.00" y1="618.60" x2="86.00" y2="621.10" stroke="#1e1e1e" stroke-width="0.9"/>
<circle cx="70.90" cy="535.30" r="2.0" fill="#fff" stroke="#1a1a1a" stroke-width="0.8"/>
<circle cx="85.70" cy="552.60" r="2.0" fill="#fff" stroke="#1a1a1a" stroke-width="0.8"/>
<circle cx="56.90" cy="596.50" r="2.0" fill="#fff" stroke="#1a1a1a" stroke-width="0.8"/>
<circle cx="59.10" cy="597.00" r="2.0" fill="#fff" stroke="#1a1a1a" stroke-width="0.8"/>
<circle cx="54.60" cy="600.20" r="2.0" fill="#fff" stroke="#1a1a1a" stroke-width="0.8"/>
<circle cx="52.10" cy="604.00" r="2.0" fill="#fff" stroke="#1a1a1a" stroke-width="0.8"/>
<circle cx="54.80" cy="605.40" r="2.0" fill="#fff" stroke="#1a1a1a" stroke-width="0.8"/>
<circle cx="58.90" cy="606.20" r="2.0" fill="#fff" stroke="#1a1a1a" stroke-width="0.8"/>
<circle cx="51.80" cy="607.80" r="2.0" fill="#fff" stroke="#1a1a1a" stroke-width="0.8"/>
<circle cx="51.80" cy="611.00" r="2.0" fill="#fff" stroke="#1a1a1a" stroke-width="0.8"/>
<circle cx="56.10" cy="611.00" r="2.0" fill="#fff" stroke="#1a1a1a" stroke-width="0.8"/>
<circle cx="59.10" cy="612.60" r="2.0" fill="#fff" stroke="#1a1a1a" stroke-width="0.8"/>
<circle cx="51.80" cy="614.80" r="2.0" fill="#fff" stroke="#1a1a1a" stroke-width="0.8"/>
<circle cx="56.10" cy="614.20" r="2.0" fill="#fff" stroke="#1a1a1a" stroke-width="0.8"/>
<circle cx="67.20" cy="577.80" r="2.0" fill="#fff" stroke="#1a1a1a" stroke-width="0.8"/>
<circle cx="70.40" cy="579.80" r="2.0" fill="#fff" stroke="#1a1a1a" stroke-width="0.8"/>
<circle cx="74.20" cy="578.50" r="2.0" fill="#fff" stroke="#1a1a1a" stroke-width="0.8"/>
<circle cx="70.90" cy="587.80" r="2.0" fill="#fff" stroke="#1a1a1a" stroke-width="0.8"/>
<circle cx="70.90" cy="593.80" r="2.0" fill="#fff" stroke="#1a1a1a" stroke-width="0.8"/>
<circle cx="70.90" cy="597.90" r="2.0" fill="#fff" stroke="#1a1a1a" stroke-width="0.8"/>
<circle cx="72.50" cy="611.50" r="2.0" fill="#fff" stroke="#1a1a1a" stroke-width="0.8"/>
<circle cx="69.00" cy="613.70" r="2.0" fill="#fff" stroke="#1a1a1a" stroke-width="0.8"/>
<circle cx="86.00" cy="576.00" r="2.0" fill="#fff" stroke="#1a1a1a" stroke-width="0.8"/>
<circle cx="86.00" cy="594.80" r="2.0" fill="#fff" stroke="#1a1a1a" stroke-width="0.8"/>
<circle cx="82.60" cy="599.20" r="2.0" fill="#fff" stroke="#1a1a1a" stroke-width="0.8"/>
<circle cx="89.80" cy="600.20" r="2.0" fill="#fff" stroke="#1a1a1a" stroke-width="0.8"/>
<circle cx="86.00" cy="601.30" r="2.0" fill="#fff" stroke="#1a1a1a" stroke-width="0.8"/>
<circle cx="84.20" cy="605.10" r="2.0" fill="#fff" stroke="#1a1a1a" stroke-width="0.8"/>
<circle cx="87.60" cy="605.60" r="2.0" fill="#fff" stroke="#1a1a1a" stroke-width="0.8"/>
<circle cx="86.00" cy="610.80" r="2.0" fill="#fff" stroke="#1a1a1a" stroke-width="0.8"/>
<line x1="70.80" y1="532.30" x2="86.00" y2="532.30" stroke="#555" stroke-width="0.9"/>
<text x="78.20" y="529.80" font-size="6.6" text-anchor="middle" fill="#333" stroke="#333" stroke-width="0.12">ns</text>
<text x="14.50" y="577.60" font-size="8.6" text-anchor="middle" fill="#333" stroke="#333" stroke-width="0.12" textLength="46.00" lengthAdjust="spacingAndGlyphs" transform="rotate(-90 14.50 577.60)">Conc. (pg/mL)</text>
<text x="56.30" y="630.60" font-size="9.0" text-anchor="end" fill="#333" stroke="#333" stroke-width="0.12" textLength="10.50" lengthAdjust="spacingAndGlyphs" transform="rotate(-45 56.30 630.60)">HC</text>
<text x="71.90" y="630.60" font-size="9.0" text-anchor="end" fill="#333" stroke="#333" stroke-width="0.12" textLength="12.50" lengthAdjust="spacingAndGlyphs" transform="rotate(-45 71.90 630.60)">Pre</text>
<text x="87.00" y="630.60" font-size="9.0" text-anchor="end" fill="#333" stroke="#333" stroke-width="0.12" textLength="16.00" lengthAdjust="spacingAndGlyphs" transform="rotate(-45 87.00 630.60)">Post</text>
<text x="162.80" y="517.30" font-size="8.2" text-anchor="start" fill="#333" stroke="#333" stroke-width="0.12" textLength="17.60" lengthAdjust="spacingAndGlyphs">IL-10</text>
<line x1="143.00" y1="530.00" x2="143.00" y2="557.40" stroke="#1e1e1e" stroke-width="1.4"/>
<line x1="140.00" y1="557.40" x2="146.00" y2="557.40" stroke="#1e1e1e" stroke-width="1.0"/>
<line x1="140.00" y1="532.50" x2="143.00" y2="532.50" stroke="#1e1e1e" stroke-width="1.0"/>
<text x="136.20" y="534.90" font-size="6.8" text-anchor="end" fill="#333" stroke="#333" stroke-width="0.12" textLength="10.35" lengthAdjust="spacingAndGlyphs">300</text>
<line x1="140.00" y1="556.80" x2="143.00" y2="556.80" stroke="#1e1e1e" stroke-width="1.0"/>
<text x="136.20" y="559.20" font-size="6.8" text-anchor="end" fill="#333" stroke="#333" stroke-width="0.12" textLength="10.35" lengthAdjust="spacingAndGlyphs">150</text>
<line x1="143.00" y1="564.20" x2="143.00" y2="621.30" stroke="#1e1e1e" stroke-width="1.4"/>
<line x1="140.00" y1="564.20" x2="146.00" y2="564.20" stroke="#1e1e1e" stroke-width="1.0"/>
<line x1="140.00" y1="564.20" x2="143.00" y2="564.20" stroke="#1e1e1e" stroke-width="1.0"/>
<text x="136.20" y="566.60" font-size="6.8" text-anchor="end" fill="#333" stroke="#333" stroke-width="0.12">60</text>
<line x1="140.00" y1="583.20" x2="143.00" y2="583.20" stroke="#1e1e1e" stroke-width="1.0"/>
<text x="136.20" y="585.60" font-size="6.8" text-anchor="end" fill="#333" stroke="#333" stroke-width="0.12">40</text>
<line x1="140.00" y1="602.30" x2="143.00" y2="602.30" stroke="#1e1e1e" stroke-width="1.0"/>
<text x="136.20" y="604.70" font-size="6.8" text-anchor="end" fill="#333" stroke="#333" stroke-width="0.12">20</text>
<line x1="140.00" y1="621.40" x2="143.00" y2="621.40" stroke="#1e1e1e" stroke-width="1.0"/>
<text x="136.20" y="623.80" font-size="6.8" text-anchor="end" fill="#333" stroke="#333" stroke-width="0.12">0</text>
<rect x="148.50" y="620.50" width="11.00" height="0.80" fill="#1e5a98" stroke="none" stroke-width="0"/>
<rect x="166.00" y="600.00" width="10.40" height="21.30" fill="#c8102e" stroke="none" stroke-width="0"/>
<rect x="182.80" y="619.50" width="10.80" height="1.80" fill="#3aaa35" stroke="none" stroke-width="0"/>
<line x1="171.30" y1="571.50" x2="171.30" y2="600.00" stroke="#707070" stroke-width="1.0"/>
<line x1="188.20" y1="612.00" x2="188.20" y2="619.50" stroke="#707070" stroke-width="1.0"/>
<line x1="143.00" y1="621.30" x2="199.40" y2="621.30" stroke="#1e1e1e" stroke-width="1.4"/>
<line x1="154.00" y1="621.30" x2="154.00" y2="623.80" stroke="#1e1e1e" stroke-width="0.9"/>
<line x1="171.30" y1="621.30" x2="171.30" y2="623.80" stroke="#1e1e1e" stroke-width="0.9"/>
<line x1="188.20" y1="621.30" x2="188.20" y2="623.80" stroke="#1e1e1e" stroke-width="0.9"/>
<circle cx="171.30" cy="537.80" r="2.0" fill="#fff" stroke="#1a1a1a" stroke-width="0.8"/>
<circle cx="188.40" cy="547.70" r="2.0" fill="#fff" stroke="#1a1a1a" stroke-width="0.8"/>
<circle cx="150.70" cy="620.10" r="2.0" fill="#fff" stroke="#1a1a1a" stroke-width="0.8"/>
<circle cx="152.90" cy="619.70" r="2.0" fill="#fff" stroke="#1a1a1a" stroke-width="0.8"/>
<circle cx="155.60" cy="620.30" r="2.0" fill="#fff" stroke="#1a1a1a" stroke-width="0.8"/>
<circle cx="157.80" cy="620.50" r="2.0" fill="#fff" stroke="#1a1a1a" stroke-width="0.8"/>
<circle cx="167.10" cy="572.90" r="2.0" fill="#fff" stroke="#1a1a1a" stroke-width="0.8"/>
<circle cx="175.00" cy="571.00" r="2.0" fill="#fff" stroke="#1a1a1a" stroke-width="0.8"/>
<circle cx="167.10" cy="598.40" r="2.0" fill="#fff" stroke="#1a1a1a" stroke-width="0.8"/>
<circle cx="167.30" cy="603.30" r="2.0" fill="#fff" stroke="#1a1a1a" stroke-width="0.8"/>
<circle cx="175.00" cy="601.70" r="2.0" fill="#fff" stroke="#1a1a1a" stroke-width="0.8"/>
<circle cx="171.30" cy="609.50" r="2.0" fill="#fff" stroke="#1a1a1a" stroke-width="0.8"/>
<circle cx="171.30" cy="617.20" r="2.0" fill="#fff" stroke="#1a1a1a" stroke-width="0.8"/>
<circle cx="188.20" cy="610.60" r="2.0" fill="#fff" stroke="#1a1a1a" stroke-width="0.8"/>
<circle cx="186.30" cy="617.50" r="2.0" fill="#fff" stroke="#1a1a1a" stroke-width="0.8"/>
<circle cx="184.70" cy="620.10" r="2.0" fill="#fff" stroke="#1a1a1a" stroke-width="0.8"/>
<circle cx="187.90" cy="619.70" r="2.0" fill="#fff" stroke="#1a1a1a" stroke-width="0.8"/>
<circle cx="191.80" cy="620.10" r="2.0" fill="#fff" stroke="#1a1a1a" stroke-width="0.8"/>
<line x1="173.00" y1="533.60" x2="188.40" y2="533.60" stroke="#555" stroke-width="0.9"/>
<text x="180.40" y="533.60" font-size="7.0" text-anchor="middle" fill="#222" stroke="#222" stroke-width="0.12" font-weight="bold">**</text>
<text x="119.80" y="575.00" font-size="8.6" text-anchor="middle" fill="#333" stroke="#333" stroke-width="0.12" textLength="43.50" lengthAdjust="spacingAndGlyphs" transform="rotate(-90 119.80 575.00)">Conc. (pg/mL)</text>
<text x="155.00" y="633.30" font-size="9.0" text-anchor="end" fill="#333" stroke="#333" stroke-width="0.12" textLength="10.50" lengthAdjust="spacingAndGlyphs" transform="rotate(-45 155.00 633.30)">HC</text>
<text x="172.30" y="633.30" font-size="9.0" text-anchor="end" fill="#333" stroke="#333" stroke-width="0.12" textLength="12.50" lengthAdjust="spacingAndGlyphs" transform="rotate(-45 172.30 633.30)">Pre</text>
<text x="189.20" y="633.30" font-size="9.0" text-anchor="end" fill="#333" stroke="#333" stroke-width="0.12" textLength="16.00" lengthAdjust="spacingAndGlyphs" transform="rotate(-45 189.20 633.30)">Post</text>
<text x="267.80" y="517.30" font-size="8.2" text-anchor="start" fill="#333" stroke="#333" stroke-width="0.12" textLength="17.60" lengthAdjust="spacingAndGlyphs">IL-18</text>
<line x1="246.30" y1="534.00" x2="246.30" y2="559.50" stroke="#1e1e1e" stroke-width="1.4"/>
<line x1="243.30" y1="559.50" x2="249.30" y2="559.50" stroke="#1e1e1e" stroke-width="1.0"/>
<line x1="243.30" y1="536.70" x2="246.30" y2="536.70" stroke="#1e1e1e" stroke-width="1.0"/>
<text x="239.50" y="539.10" font-size="6.8" text-anchor="end" fill="#333" stroke="#333" stroke-width="0.12" textLength="13.80" lengthAdjust="spacingAndGlyphs">1500</text>
<line x1="243.30" y1="548.40" x2="246.30" y2="548.40" stroke="#1e1e1e" stroke-width="1.0"/>
<text x="239.50" y="550.80" font-size="6.8" text-anchor="end" fill="#333" stroke="#333" stroke-width="0.12" textLength="13.80" lengthAdjust="spacingAndGlyphs">1000</text>
<line x1="243.30" y1="559.60" x2="246.30" y2="559.60" stroke="#1e1e1e" stroke-width="1.0"/>
<text x="239.50" y="562.00" font-size="6.8" text-anchor="end" fill="#333" stroke="#333" stroke-width="0.12" textLength="10.35" lengthAdjust="spacingAndGlyphs">500</text>
<line x1="246.30" y1="566.30" x2="246.30" y2="619.30" stroke="#1e1e1e" stroke-width="1.4"/>
<line x1="243.30" y1="566.30" x2="249.30" y2="566.30" stroke="#1e1e1e" stroke-width="1.0"/>
<line x1="243.30" y1="565.90" x2="246.30" y2="565.90" stroke="#1e1e1e" stroke-width="1.0"/>
<text x="239.50" y="568.30" font-size="6.8" text-anchor="end" fill="#333" stroke="#333" stroke-width="0.12" textLength="10.35" lengthAdjust="spacingAndGlyphs">200</text>
<line x1="243.30" y1="579.20" x2="246.30" y2="579.20" stroke="#1e1e1e" stroke-width="1.0"/>
<text x="239.50" y="581.60" font-size="6.8" text-anchor="end" fill="#333" stroke="#333" stroke-width="0.12" textLength="10.35" lengthAdjust="spacingAndGlyphs">150</text>
<line x1="243.30" y1="592.30" x2="246.30" y2="592.30" stroke="#1e1e1e" stroke-width="1.0"/>
<text x="239.50" y="594.70" font-size="6.8" text-anchor="end" fill="#333" stroke="#333" stroke-width="0.12" textLength="10.35" lengthAdjust="spacingAndGlyphs">100</text>
<line x1="243.30" y1="606.20" x2="246.30" y2="606.20" stroke="#1e1e1e" stroke-width="1.0"/>
<text x="239.50" y="608.60" font-size="6.8" text-anchor="end" fill="#333" stroke="#333" stroke-width="0.12">50</text>
<line x1="243.30" y1="619.50" x2="246.30" y2="619.50" stroke="#1e1e1e" stroke-width="1.0"/>
<text x="239.50" y="621.90" font-size="6.8" text-anchor="end" fill="#333" stroke="#333" stroke-width="0.12">0</text>
<rect x="252.30" y="610.80" width="12.20" height="8.50" fill="#1a3b66" stroke="none" stroke-width="0"/>
<rect x="270.50" y="576.20" width="11.50" height="43.10" fill="#c8102e" stroke="none" stroke-width="0"/>
<rect x="287.80" y="598.10" width="12.20" height="21.20" fill="#3aaa35" stroke="none" stroke-width="0"/>
<line x1="258.70" y1="604.40" x2="258.70" y2="610.80" stroke="#707070" stroke-width="1.0"/>
<line x1="276.20" y1="569.20" x2="276.20" y2="576.20" stroke="#707070" stroke-width="1.0"/>
<line x1="293.90" y1="584.80" x2="293.90" y2="598.10" stroke="#707070" stroke-width="1.0"/>
<line x1="291.60" y1="584.80" x2="296.20" y2="584.80" stroke="#707070" stroke-width="1.0"/>
<line x1="246.30" y1="619.30" x2="304.40" y2="619.30" stroke="#1e1e1e" stroke-width="1.4"/>
<line x1="258.70" y1="619.30" x2="258.70" y2="621.80" stroke="#1e1e1e" stroke-width="0.9"/>
<line x1="276.20" y1="619.30" x2="276.20" y2="621.80" stroke="#1e1e1e" stroke-width="0.9"/>
<line x1="293.90" y1="619.30" x2="293.90" y2="621.80" stroke="#1e1e1e" stroke-width="0.9"/>
<circle cx="276.30" cy="538.80" r="2.0" fill="#fff" stroke="#1a1a1a" stroke-width="0.8"/>
<circle cx="257.00" cy="601.50" r="2.0" fill="#fff" stroke="#1a1a1a" stroke-width="0.8"/>
<circle cx="260.40" cy="602.50" r="2.0" fill="#fff" stroke="#1a1a1a" stroke-width="0.8"/>
<circle cx="259.30" cy="603.30" r="2.0" fill="#fff" stroke="#1a1a1a" stroke-width="0.8"/>
<circle cx="254.10" cy="612.50" r="2.0" fill="#fff" stroke="#1a1a1a" stroke-width="0.8"/>
<circle cx="257.50" cy="612.50" r="2.0" fill="#fff" stroke="#1a1a1a" stroke-width="0.8"/>
<circle cx="262.70" cy="612.50" r="2.0" fill="#fff" stroke="#1a1a1a" stroke-width="0.8"/>
<circle cx="255.80" cy="615.40" r="2.0" fill="#fff" stroke="#1a1a1a" stroke-width="0.8"/>
<circle cx="259.80" cy="616.00" r="2.0" fill="#fff" stroke="#1a1a1a" stroke-width="0.8"/>
<circle cx="256.20" cy="617.50" r="2.0" fill="#fff" stroke="#1a1a1a" stroke-width="0.8"/>
<circle cx="272.30" cy="568.70" r="2.0" fill="#fff" stroke="#1a1a1a" stroke-width="0.8"/>
<circle cx="272.30" cy="572.10" r="2.0" fill="#fff" stroke="#1a1a1a" stroke-width="0.8"/>
<circle cx="276.20" cy="569.80" r="2.0" fill="#fff" stroke="#1a1a1a" stroke-width="0.8"/>
<circle cx="280.40" cy="570.40" r="2.0" fill="#fff" stroke="#1a1a1a" stroke-width="0.8"/>
<circle cx="276.20" cy="579.60" r="2.0" fill="#fff" stroke="#1a1a1a" stroke-width="0.8"/>
<circle cx="276.20" cy="591.40" r="2.0" fill="#fff" stroke="#1a1a1a" stroke-width="0.8"/>
<circle cx="276.20" cy="606.70" r="2.0" fill="#fff" stroke="#1a1a1a" stroke-width="0.8"/>
<circle cx="276.20" cy="617.10" r="2.0" fill="#fff" stroke="#1a1a1a" stroke-width="0.8"/>
<circle cx="293.90" cy="570.20" r="2.0" fill="#fff" stroke="#1a1a1a" stroke-width="0.8"/>
<circle cx="293.90" cy="584.80" r="2.0" fill="#fff" stroke="#1a1a1a" stroke-width="0.8"/>
<circle cx="289.80" cy="595.20" r="2.0" fill="#fff" stroke="#1a1a1a" stroke-width="0.8"/>
<circle cx="298.50" cy="592.90" r="2.0" fill="#fff" stroke="#1a1a1a" stroke-width="0.8"/>
<circle cx="293.90" cy="600.60" r="2.0" fill="#fff" stroke="#1a1a1a" stroke-width="0.8"/>
<circle cx="289.80" cy="604.80" r="2.0" fill="#fff" stroke="#1a1a1a" stroke-width="0.8"/>
<circle cx="298.50" cy="606.70" r="2.0" fill="#fff" stroke="#1a1a1a" stroke-width="0.8"/>
<circle cx="293.90" cy="614.80" r="2.0" fill="#fff" stroke="#1a1a1a" stroke-width="0.8"/>
<line x1="279.00" y1="536.70" x2="293.40" y2="536.70" stroke="#555" stroke-width="0.9"/>
<text x="275.90" y="533.60" font-size="6.6" text-anchor="start" fill="#333" stroke="#333" stroke-width="0.12" textLength="20.50" lengthAdjust="spacingAndGlyphs">P = .07</text>
<text x="224.60" y="580.70" font-size="8.6" text-anchor="middle" fill="#333" stroke="#333" stroke-width="0.12" textLength="44.50" lengthAdjust="spacingAndGlyphs" transform="rotate(-90 224.60 580.70)">Conc. (pg/mL)</text>
<text x="259.70" y="631.30" font-size="9.0" text-anchor="end" fill="#333" stroke="#333" stroke-width="0.12" textLength="10.50" lengthAdjust="spacingAndGlyphs" transform="rotate(-45 259.70 631.30)">HC</text>
<text x="277.20" y="631.30" font-size="9.0" text-anchor="end" fill="#333" stroke="#333" stroke-width="0.12" textLength="12.50" lengthAdjust="spacingAndGlyphs" transform="rotate(-45 277.20 631.30)">Pre</text>
<text x="294.90" y="631.30" font-size="9.0" text-anchor="end" fill="#333" stroke="#333" stroke-width="0.12" textLength="16.00" lengthAdjust="spacingAndGlyphs" transform="rotate(-45 294.90 631.30)">Post</text>
<text x="382.20" y="517.30" font-size="8.2" text-anchor="start" fill="#333" stroke="#333" stroke-width="0.12" textLength="12.70" lengthAdjust="spacingAndGlyphs">IL-2</text>
<line x1="358.30" y1="522.30" x2="358.30" y2="550.40" stroke="#1e1e1e" stroke-width="1.4"/>
<line x1="355.30" y1="550.40" x2="361.30" y2="550.40" stroke="#1e1e1e" stroke-width="1.0"/>
<line x1="355.30" y1="525.50" x2="358.30" y2="525.50" stroke="#1e1e1e" stroke-width="1.0"/>
<text x="351.50" y="527.90" font-size="6.8" text-anchor="end" fill="#333" stroke="#333" stroke-width="0.12">20</text>
<line x1="355.30" y1="533.60" x2="358.30" y2="533.60" stroke="#1e1e1e" stroke-width="1.0"/>
<text x="351.50" y="536.00" font-size="6.8" text-anchor="end" fill="#333" stroke="#333" stroke-width="0.12">15</text>
<line x1="355.30" y1="541.60" x2="358.30" y2="541.60" stroke="#1e1e1e" stroke-width="1.0"/>
<text x="351.50" y="544.00" font-size="6.8" text-anchor="end" fill="#333" stroke="#333" stroke-width="0.12">10</text>
<line x1="355.30" y1="550.50" x2="358.30" y2="550.50" stroke="#1e1e1e" stroke-width="1.0"/>
<text x="351.50" y="552.90" font-size="6.8" text-anchor="end" fill="#333" stroke="#333" stroke-width="0.12">5</text>
<line x1="358.30" y1="558.50" x2="358.30" y2="620.00" stroke="#1e1e1e" stroke-width="1.4"/>
<line x1="355.30" y1="558.50" x2="361.30" y2="558.50" stroke="#1e1e1e" stroke-width="1.0"/>
<line x1="355.30" y1="558.90" x2="358.30" y2="558.90" stroke="#1e1e1e" stroke-width="1.0"/>
<text x="351.50" y="561.30" font-size="6.8" text-anchor="end" fill="#333" stroke="#333" stroke-width="0.12">4</text>
<line x1="355.30" y1="573.90" x2="358.30" y2="573.90" stroke="#1e1e1e" stroke-width="1.0"/>
<text x="351.50" y="576.30" font-size="6.8" text-anchor="end" fill="#333" stroke="#333" stroke-width="0.12">3</text>
<line x1="355.30" y1="589.10" x2="358.30" y2="589.10" stroke="#1e1e1e" stroke-width="1.0"/>
<text x="351.50" y="591.50" font-size="6.8" text-anchor="end" fill="#333" stroke="#333" stroke-width="0.12">2</text>
<line x1="355.30" y1="604.80" x2="358.30" y2="604.80" stroke="#1e1e1e" stroke-width="1.0"/>
<text x="351.50" y="607.20" font-size="6.8" text-anchor="end" fill="#333" stroke="#333" stroke-width="0.12">1</text>
<line x1="355.30" y1="620.20" x2="358.30" y2="620.20" stroke="#1e1e1e" stroke-width="1.0"/>
<text x="351.50" y="622.60" font-size="6.8" text-anchor="end" fill="#333" stroke="#333" stroke-width="0.12">0</text>
<rect x="365.20" y="612.10" width="11.30" height="7.90" fill="#1e5a98" stroke="none" stroke-width="0"/>
<rect x="382.80" y="615.60" width="11.00" height="4.40" fill="#c8102e" stroke="none" stroke-width="0"/>
<rect x="400.50" y="613.30" width="11.50" height="6.70" fill="#3aaa35" stroke="none" stroke-width="0"/>
<line x1="370.70" y1="579.80" x2="370.70" y2="612.10" stroke="#707070" stroke-width="1.0"/>
<line x1="406.20" y1="603.50" x2="406.20" y2="613.30" stroke="#707070" stroke-width="1.0"/>
<line x1="358.30" y1="620.00" x2="418.00" y2="620.00" stroke="#1e1e1e" stroke-width="1.4"/>
<line x1="370.70" y1="620.00" x2="370.70" y2="622.50" stroke="#1e1e1e" stroke-width="0.9"/>
<line x1="388.20" y1="620.00" x2="388.20" y2="622.50" stroke="#1e1e1e" stroke-width="0.9"/>
<line x1="406.20" y1="620.00" x2="406.20" y2="622.50" stroke="#1e1e1e" stroke-width="0.9"/>
<circle cx="370.60" cy="531.90" r="2.0" fill="#fff" stroke="#1a1a1a" stroke-width="0.8"/>
<circle cx="388.10" cy="547.30" r="2.0" fill="#fff" stroke="#1a1a1a" stroke-width="0.8"/>
<circle cx="406.10" cy="566.50" r="2.0" fill="#fff" stroke="#1a1a1a" stroke-width="0.8"/>
<circle cx="370.70" cy="570.60" r="2.0" fill="#fff" stroke="#1a1a1a" stroke-width="0.8"/>
<circle cx="370.70" cy="576.90" r="2.0" fill="#fff" stroke="#1a1a1a" stroke-width="0.8"/>
<circle cx="370.70" cy="578.60" r="2.0" fill="#fff" stroke="#1a1a1a" stroke-width="0.8"/>
<circle cx="370.70" cy="587.50" r="2.0" fill="#fff" stroke="#1a1a1a" stroke-width="0.8"/>
<circle cx="370.70" cy="600.00" r="2.0" fill="#fff" stroke="#1a1a1a" stroke-width="0.8"/>
<circle cx="370.70" cy="609.00" r="2.0" fill="#fff" stroke="#1a1a1a" stroke-width="0.8"/>
<circle cx="370.70" cy="615.00" r="2.0" fill="#fff" stroke="#1a1a1a" stroke-width="0.8"/>
<circle cx="366.70" cy="619.00" r="2.0" fill="#fff" stroke="#1a1a1a" stroke-width="0.8"/>
<circle cx="374.70" cy="619.00" r="2.0" fill="#fff" stroke="#1a1a1a" stroke-width="0.8"/>
<circle cx="390.50" cy="611.30" r="2.0" fill="#fff" stroke="#1a1a1a" stroke-width="0.8"/>
<circle cx="386.80" cy="613.80" r="2.0" fill="#fff" stroke="#1a1a1a" stroke-width="0.8"/>
<circle cx="384.50" cy="617.30" r="2.0" fill="#fff" stroke="#1a1a1a" stroke-width="0.8"/>
<circle cx="388.60" cy="617.30" r="2.0" fill="#fff" stroke="#1a1a1a" stroke-width="0.8"/>
<circle cx="392.60" cy="617.30" r="2.0" fill="#fff" stroke="#1a1a1a" stroke-width="0.8"/>
<circle cx="406.20" cy="603.20" r="2.0" fill="#fff" stroke="#1a1a1a" stroke-width="0.8"/>
<circle cx="402.20" cy="611.50" r="2.0" fill="#fff" stroke="#1a1a1a" stroke-width="0.8"/>
<circle cx="406.20" cy="612.70" r="2.0" fill="#fff" stroke="#1a1a1a" stroke-width="0.8"/>
<circle cx="402.20" cy="619.80" r="2.0" fill="#fff" stroke="#1a1a1a" stroke-width="0.8"/>
<circle cx="406.20" cy="619.00" r="2.0" fill="#fff" stroke="#1a1a1a" stroke-width="0.8"/>
<circle cx="410.20" cy="619.40" r="2.0" fill="#fff" stroke="#1a1a1a" stroke-width="0.8"/>
<line x1="390.70" y1="544.10" x2="404.40" y2="544.10" stroke="#555" stroke-width="0.9"/>
<text x="397.70" y="541.60" font-size="6.6" text-anchor="middle" fill="#333" stroke="#333" stroke-width="0.12">ns</text>
<text x="340.80" y="570.70" font-size="8.6" text-anchor="middle" fill="#333" stroke="#333" stroke-width="0.12" textLength="43.50" lengthAdjust="spacingAndGlyphs" transform="rotate(-90 340.80 570.70)">Conc. (pg/mL)</text>
<text x="371.70" y="632.00" font-size="9.0" text-anchor="end" fill="#333" stroke="#333" stroke-width="0.12" textLength="10.50" lengthAdjust="spacingAndGlyphs" transform="rotate(-45 371.70 632.00)">HC</text>
<text x="389.20" y="632.00" font-size="9.0" text-anchor="end" fill="#333" stroke="#333" stroke-width="0.12" textLength="12.50" lengthAdjust="spacingAndGlyphs" transform="rotate(-45 389.20 632.00)">Pre</text>
<text x="407.20" y="632.00" font-size="9.0" text-anchor="end" fill="#333" stroke="#333" stroke-width="0.12" textLength="16.00" lengthAdjust="spacingAndGlyphs" transform="rotate(-45 407.20 632.00)">Post</text>
<text x="484.50" y="517.30" font-size="8.2" text-anchor="start" fill="#333" stroke="#333" stroke-width="0.12" textLength="12.70" lengthAdjust="spacingAndGlyphs">IL-7</text>
<line x1="460.80" y1="524.00" x2="460.80" y2="620.40" stroke="#1e1e1e" stroke-width="1.4"/>
<line x1="457.80" y1="526.60" x2="460.80" y2="526.60" stroke="#1e1e1e" stroke-width="1.0"/>
<text x="454.00" y="529.00" font-size="6.8" text-anchor="end" fill="#333" stroke="#333" stroke-width="0.12">20</text>
<line x1="457.80" y1="550.50" x2="460.80" y2="550.50" stroke="#1e1e1e" stroke-width="1.0"/>
<text x="454.00" y="552.90" font-size="6.8" text-anchor="end" fill="#333" stroke="#333" stroke-width="0.12">15</text>
<line x1="457.80" y1="573.60" x2="460.80" y2="573.60" stroke="#1e1e1e" stroke-width="1.0"/>
<text x="454.00" y="576.00" font-size="6.8" text-anchor="end" fill="#333" stroke="#333" stroke-width="0.12">10</text>
<line x1="457.80" y1="597.10" x2="460.80" y2="597.10" stroke="#1e1e1e" stroke-width="1.0"/>
<text x="454.00" y="599.50" font-size="6.8" text-anchor="end" fill="#333" stroke="#333" stroke-width="0.12">5</text>
<line x1="457.80" y1="620.30" x2="460.80" y2="620.30" stroke="#1e1e1e" stroke-width="1.0"/>
<text x="454.00" y="622.70" font-size="6.8" text-anchor="end" fill="#333" stroke="#333" stroke-width="0.12">0</text>
<rect x="467.20" y="610.40" width="11.90" height="10.00" fill="#1e5a98" stroke="none" stroke-width="0"/>
<rect x="484.70" y="612.40" width="11.10" height="8.00" fill="#c8102e" stroke="none" stroke-width="0"/>
<rect x="502.40" y="608.40" width="11.60" height="12.00" fill="#3aaa35" stroke="none" stroke-width="0"/>
<line x1="508.00" y1="589.30" x2="508.00" y2="608.40" stroke="#707070" stroke-width="1.0"/>
<line x1="505.70" y1="589.30" x2="510.30" y2="589.30" stroke="#707070" stroke-width="1.0"/>
<line x1="460.80" y1="620.40" x2="520.00" y2="620.40" stroke="#1e1e1e" stroke-width="1.4"/>
<line x1="473.20" y1="620.40" x2="473.20" y2="622.90" stroke="#1e1e1e" stroke-width="0.9"/>
<line x1="490.50" y1="620.40" x2="490.50" y2="622.90" stroke="#1e1e1e" stroke-width="0.9"/>
<line x1="508.00" y1="620.40" x2="508.00" y2="622.90" stroke="#1e1e1e" stroke-width="0.9"/>
<circle cx="471.80" cy="599.20" r="2.0" fill="#fff" stroke="#1a1a1a" stroke-width="0.8"/>
<circle cx="474.50" cy="599.90" r="2.0" fill="#fff" stroke="#1a1a1a" stroke-width="0.8"/>
<circle cx="477.10" cy="596.80" r="2.0" fill="#fff" stroke="#1a1a1a" stroke-width="0.8"/>
<circle cx="471.60" cy="603.20" r="2.0" fill="#fff" stroke="#1a1a1a" stroke-width="0.8"/>
<circle cx="471.20" cy="606.40" r="2.0" fill="#fff" stroke="#1a1a1a" stroke-width="0.8"/>
<circle cx="474.50" cy="606.80" r="2.0" fill="#fff" stroke="#1a1a1a" stroke-width="0.8"/>
<circle cx="474.20" cy="613.00" r="2.0" fill="#fff" stroke="#1a1a1a" stroke-width="0.8"/>
<circle cx="469.20" cy="616.30" r="2.0" fill="#fff" stroke="#1a1a1a" stroke-width="0.8"/>
<circle cx="469.20" cy="620.00" r="2.0" fill="#fff" stroke="#1a1a1a" stroke-width="0.8"/>
<circle cx="473.20" cy="619.60" r="2.0" fill="#fff" stroke="#1a1a1a" stroke-width="0.8"/>
<circle cx="476.40" cy="619.00" r="2.0" fill="#fff" stroke="#1a1a1a" stroke-width="0.8"/>
<circle cx="490.50" cy="601.20" r="2.0" fill="#fff" stroke="#1a1a1a" stroke-width="0.8"/>
<circle cx="490.50" cy="607.80" r="2.0" fill="#fff" stroke="#1a1a1a" stroke-width="0.8"/>
<circle cx="487.00" cy="611.70" r="2.0" fill="#fff" stroke="#1a1a1a" stroke-width="0.8"/>
<circle cx="494.90" cy="611.10" r="2.0" fill="#fff" stroke="#1a1a1a" stroke-width="0.8"/>
<circle cx="490.50" cy="613.70" r="2.0" fill="#fff" stroke="#1a1a1a" stroke-width="0.8"/>
<circle cx="487.00" cy="619.60" r="2.0" fill="#fff" stroke="#1a1a1a" stroke-width="0.8"/>
<circle cx="490.90" cy="617.60" r="2.0" fill="#fff" stroke="#1a1a1a" stroke-width="0.8"/>
<circle cx="494.90" cy="618.70" r="2.0" fill="#fff" stroke="#1a1a1a" stroke-width="0.8"/>
<circle cx="508.00" cy="551.20" r="2.0" fill="#fff" stroke="#1a1a1a" stroke-width="0.8"/>
<circle cx="508.00" cy="585.80" r="2.0" fill="#fff" stroke="#1a1a1a" stroke-width="0.8"/>
<circle cx="508.00" cy="600.50" r="2.0" fill="#fff" stroke="#1a1a1a" stroke-width="0.8"/>
<circle cx="512.00" cy="606.80" r="2.0" fill="#fff" stroke="#1a1a1a" stroke-width="0.8"/>
<circle cx="504.10" cy="609.10" r="2.0" fill="#fff" stroke="#1a1a1a" stroke-width="0.8"/>
<circle cx="508.00" cy="610.40" r="2.0" fill="#fff" stroke="#1a1a1a" stroke-width="0.8"/>
<circle cx="504.70" cy="615.00" r="2.0" fill="#fff" stroke="#1a1a1a" stroke-width="0.8"/>
<circle cx="512.00" cy="617.00" r="2.0" fill="#fff" stroke="#1a1a1a" stroke-width="0.8"/>
<circle cx="504.50" cy="620.00" r="2.0" fill="#fff" stroke="#1a1a1a" stroke-width="0.8"/>
<line x1="492.10" y1="535.70" x2="506.90" y2="535.70" stroke="#555" stroke-width="0.9"/>
<text x="499.30" y="533.00" font-size="6.6" text-anchor="middle" fill="#333" stroke="#333" stroke-width="0.12">ns</text>
<text x="443.20" y="572.00" font-size="8.6" text-anchor="middle" fill="#333" stroke="#333" stroke-width="0.12" textLength="45.00" lengthAdjust="spacingAndGlyphs" transform="rotate(-90 443.20 572.00)">Conc. (pg/mL)</text>
<text x="474.20" y="632.40" font-size="9.0" text-anchor="end" fill="#333" stroke="#333" stroke-width="0.12" textLength="10.50" lengthAdjust="spacingAndGlyphs" transform="rotate(-45 474.20 632.40)">HC</text>
<text x="491.50" y="632.40" font-size="9.0" text-anchor="end" fill="#333" stroke="#333" stroke-width="0.12" textLength="12.50" lengthAdjust="spacingAndGlyphs" transform="rotate(-45 491.50 632.40)">Pre</text>
<text x="509.00" y="632.40" font-size="9.0" text-anchor="end" fill="#333" stroke="#333" stroke-width="0.12" textLength="16.00" lengthAdjust="spacingAndGlyphs" transform="rotate(-45 509.00 632.40)">Post</text>
</svg>
</body></html>
